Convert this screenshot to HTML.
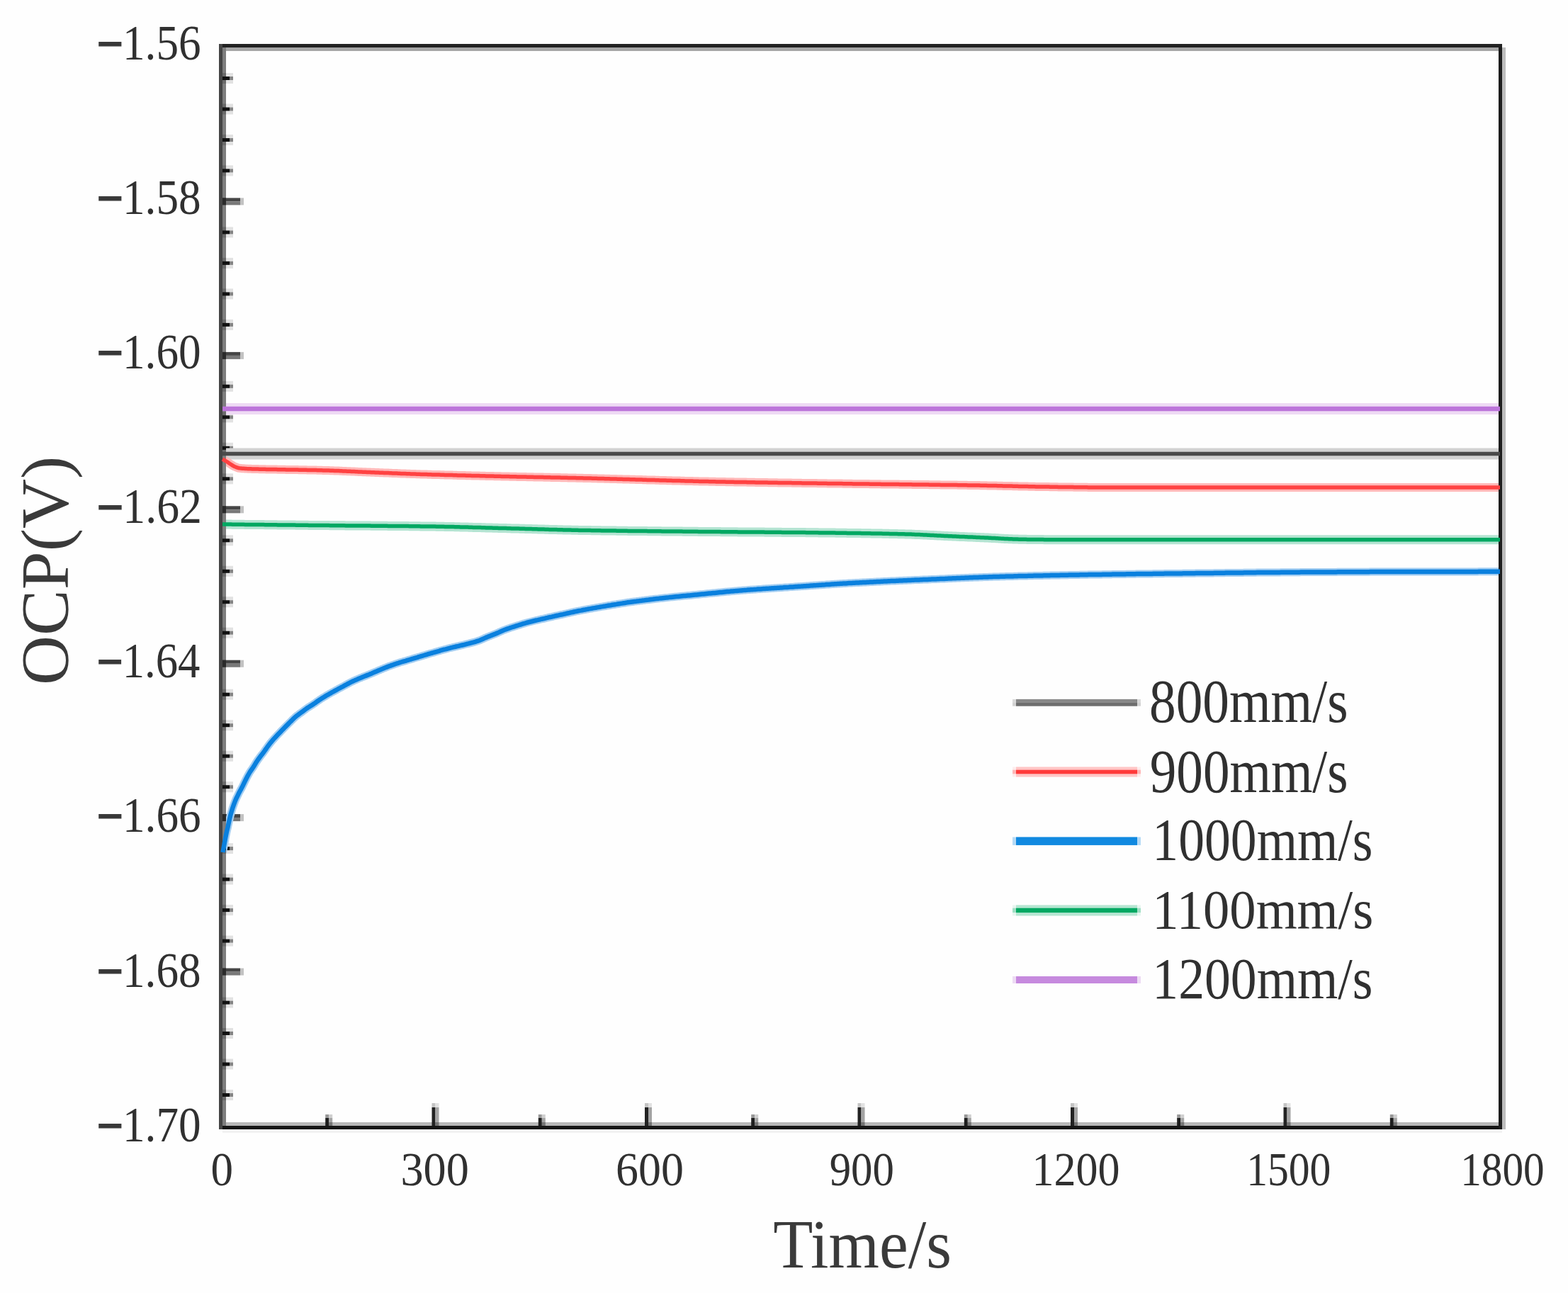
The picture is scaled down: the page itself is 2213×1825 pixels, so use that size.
<!DOCTYPE html>
<html><head><meta charset="utf-8"><title>OCP vs Time</title>
<style>
html,body{margin:0;padding:0;background:#fff;}
svg{display:block;}
text{font-family:'Liberation Serif', 'Times New Roman', serif;fill:#303030;}
.tt{fill:#3a3a3a;}
</style></head>
<body>
<svg width="2213" height="1825" viewBox="0 0 2213 1825">
<rect x="0" y="0" width="2213" height="1825" fill="#fefefe"/>
<defs><clipPath id="plotclip"><rect x="319" y="72" width="1796" height="1512"/></clipPath></defs>
<g id="frame">
<rect x="309" y="62" width="5" height="1532" fill="#454545"/>
<rect x="314" y="67" width="5" height="1522" fill="#7e7e7e"/>
<rect x="314" y="62" width="1806" height="5" fill="#222"/>
<rect x="319" y="67" width="1796" height="5" fill="#a6a6a6"/>
<rect x="319" y="1584" width="1796" height="5" fill="#b8b8b8"/>
<rect x="314" y="1589" width="1806" height="5" fill="#161616"/>
<rect x="2115" y="67" width="5" height="1527" fill="#1e1e1e"/>
<rect x="2120" y="67" width="5" height="1527" fill="#bdbdbd"/>
<rect x="319" y="103" width="10" height="5" fill="#e2e2e2"/><rect x="319" y="113" width="10" height="5" fill="#e2e2e2"/><rect x="314" y="103" width="5" height="15" fill="#6a6a6a"/><rect x="314" y="108" width="10" height="5" fill="#121212"/><rect x="324" y="108" width="5" height="5" fill="#858585"/>
<rect x="319" y="146.5" width="10" height="5" fill="#e2e2e2"/><rect x="319" y="156.5" width="10" height="5" fill="#e2e2e2"/><rect x="314" y="146.5" width="5" height="15" fill="#6a6a6a"/><rect x="314" y="151.5" width="10" height="5" fill="#121212"/><rect x="324" y="151.5" width="5" height="5" fill="#858585"/>
<rect x="319" y="190" width="10" height="5" fill="#e2e2e2"/><rect x="319" y="200" width="10" height="5" fill="#e2e2e2"/><rect x="314" y="190" width="5" height="15" fill="#6a6a6a"/><rect x="314" y="195" width="10" height="5" fill="#121212"/><rect x="324" y="195" width="5" height="5" fill="#858585"/>
<rect x="319" y="233.4" width="10" height="5" fill="#e2e2e2"/><rect x="319" y="243.4" width="10" height="5" fill="#e2e2e2"/><rect x="314" y="233.4" width="5" height="15" fill="#6a6a6a"/><rect x="314" y="238.4" width="10" height="5" fill="#121212"/><rect x="324" y="238.4" width="5" height="5" fill="#858585"/>
<rect x="314" y="279.4" width="25" height="5" fill="#464646"/><rect x="314" y="284.4" width="25" height="5" fill="#787878"/><rect x="314" y="279.4" width="5" height="10" fill="#2a2a2a"/><rect x="339" y="279.4" width="5" height="10" fill="#c2c2c2"/>
<rect x="319" y="320.4" width="10" height="5" fill="#e2e2e2"/><rect x="319" y="330.4" width="10" height="5" fill="#e2e2e2"/><rect x="314" y="320.4" width="5" height="15" fill="#6a6a6a"/><rect x="314" y="325.4" width="10" height="5" fill="#121212"/><rect x="324" y="325.4" width="5" height="5" fill="#858585"/>
<rect x="319" y="363.9" width="10" height="5" fill="#e2e2e2"/><rect x="319" y="373.9" width="10" height="5" fill="#e2e2e2"/><rect x="314" y="363.9" width="5" height="15" fill="#6a6a6a"/><rect x="314" y="368.9" width="10" height="5" fill="#121212"/><rect x="324" y="368.9" width="5" height="5" fill="#858585"/>
<rect x="319" y="407.4" width="10" height="5" fill="#e2e2e2"/><rect x="319" y="417.4" width="10" height="5" fill="#e2e2e2"/><rect x="314" y="407.4" width="5" height="15" fill="#6a6a6a"/><rect x="314" y="412.4" width="10" height="5" fill="#121212"/><rect x="324" y="412.4" width="5" height="5" fill="#858585"/>
<rect x="319" y="450.9" width="10" height="5" fill="#e2e2e2"/><rect x="319" y="460.9" width="10" height="5" fill="#e2e2e2"/><rect x="314" y="450.9" width="5" height="15" fill="#6a6a6a"/><rect x="314" y="455.9" width="10" height="5" fill="#121212"/><rect x="324" y="455.9" width="5" height="5" fill="#858585"/>
<rect x="314" y="496.9" width="25" height="5" fill="#464646"/><rect x="314" y="501.9" width="25" height="5" fill="#787878"/><rect x="314" y="496.9" width="5" height="10" fill="#2a2a2a"/><rect x="339" y="496.9" width="5" height="10" fill="#c2c2c2"/>
<rect x="319" y="537.8" width="10" height="5" fill="#e2e2e2"/><rect x="319" y="547.8" width="10" height="5" fill="#e2e2e2"/><rect x="314" y="537.8" width="5" height="15" fill="#6a6a6a"/><rect x="314" y="542.8" width="10" height="5" fill="#121212"/><rect x="324" y="542.8" width="5" height="5" fill="#858585"/>
<rect x="319" y="581.3" width="10" height="5" fill="#e2e2e2"/><rect x="319" y="591.3" width="10" height="5" fill="#e2e2e2"/><rect x="314" y="581.3" width="5" height="15" fill="#6a6a6a"/><rect x="314" y="586.3" width="10" height="5" fill="#121212"/><rect x="324" y="586.3" width="5" height="5" fill="#858585"/>
<rect x="319" y="624.8" width="10" height="5" fill="#e2e2e2"/><rect x="319" y="634.8" width="10" height="5" fill="#e2e2e2"/><rect x="314" y="624.8" width="5" height="15" fill="#6a6a6a"/><rect x="314" y="629.8" width="10" height="5" fill="#121212"/><rect x="324" y="629.8" width="5" height="5" fill="#858585"/>
<rect x="319" y="668.3" width="10" height="5" fill="#e2e2e2"/><rect x="319" y="678.3" width="10" height="5" fill="#e2e2e2"/><rect x="314" y="668.3" width="5" height="15" fill="#6a6a6a"/><rect x="314" y="673.3" width="10" height="5" fill="#121212"/><rect x="324" y="673.3" width="5" height="5" fill="#858585"/>
<rect x="314" y="714.3" width="25" height="5" fill="#464646"/><rect x="314" y="719.3" width="25" height="5" fill="#787878"/><rect x="314" y="714.3" width="5" height="10" fill="#2a2a2a"/><rect x="339" y="714.3" width="5" height="10" fill="#c2c2c2"/>
<rect x="319" y="755.3" width="10" height="5" fill="#e2e2e2"/><rect x="319" y="765.3" width="10" height="5" fill="#e2e2e2"/><rect x="314" y="755.3" width="5" height="15" fill="#6a6a6a"/><rect x="314" y="760.3" width="10" height="5" fill="#121212"/><rect x="324" y="760.3" width="5" height="5" fill="#858585"/>
<rect x="319" y="798.8" width="10" height="5" fill="#e2e2e2"/><rect x="319" y="808.8" width="10" height="5" fill="#e2e2e2"/><rect x="314" y="798.8" width="5" height="15" fill="#6a6a6a"/><rect x="314" y="803.8" width="10" height="5" fill="#121212"/><rect x="324" y="803.8" width="5" height="5" fill="#858585"/>
<rect x="319" y="842.2" width="10" height="5" fill="#e2e2e2"/><rect x="319" y="852.2" width="10" height="5" fill="#e2e2e2"/><rect x="314" y="842.2" width="5" height="15" fill="#6a6a6a"/><rect x="314" y="847.2" width="10" height="5" fill="#121212"/><rect x="324" y="847.2" width="5" height="5" fill="#858585"/>
<rect x="319" y="885.7" width="10" height="5" fill="#e2e2e2"/><rect x="319" y="895.7" width="10" height="5" fill="#e2e2e2"/><rect x="314" y="885.7" width="5" height="15" fill="#6a6a6a"/><rect x="314" y="890.7" width="10" height="5" fill="#121212"/><rect x="324" y="890.7" width="5" height="5" fill="#858585"/>
<rect x="314" y="931.7" width="25" height="5" fill="#464646"/><rect x="314" y="936.7" width="25" height="5" fill="#787878"/><rect x="314" y="931.7" width="5" height="10" fill="#2a2a2a"/><rect x="339" y="931.7" width="5" height="10" fill="#c2c2c2"/>
<rect x="319" y="972.7" width="10" height="5" fill="#e2e2e2"/><rect x="319" y="982.7" width="10" height="5" fill="#e2e2e2"/><rect x="314" y="972.7" width="5" height="15" fill="#6a6a6a"/><rect x="314" y="977.7" width="10" height="5" fill="#121212"/><rect x="324" y="977.7" width="5" height="5" fill="#858585"/>
<rect x="319" y="1016.2" width="10" height="5" fill="#e2e2e2"/><rect x="319" y="1026.2" width="10" height="5" fill="#e2e2e2"/><rect x="314" y="1016.2" width="5" height="15" fill="#6a6a6a"/><rect x="314" y="1021.2" width="10" height="5" fill="#121212"/><rect x="324" y="1021.2" width="5" height="5" fill="#858585"/>
<rect x="319" y="1059.7" width="10" height="5" fill="#e2e2e2"/><rect x="319" y="1069.7" width="10" height="5" fill="#e2e2e2"/><rect x="314" y="1059.7" width="5" height="15" fill="#6a6a6a"/><rect x="314" y="1064.7" width="10" height="5" fill="#121212"/><rect x="324" y="1064.7" width="5" height="5" fill="#858585"/>
<rect x="319" y="1103.2" width="10" height="5" fill="#e2e2e2"/><rect x="319" y="1113.2" width="10" height="5" fill="#e2e2e2"/><rect x="314" y="1103.2" width="5" height="15" fill="#6a6a6a"/><rect x="314" y="1108.2" width="10" height="5" fill="#121212"/><rect x="324" y="1108.2" width="5" height="5" fill="#858585"/>
<rect x="314" y="1149.1" width="25" height="5" fill="#464646"/><rect x="314" y="1154.1" width="25" height="5" fill="#787878"/><rect x="314" y="1149.1" width="5" height="10" fill="#2a2a2a"/><rect x="339" y="1149.1" width="5" height="10" fill="#c2c2c2"/>
<rect x="319" y="1190.1" width="10" height="5" fill="#e2e2e2"/><rect x="319" y="1200.1" width="10" height="5" fill="#e2e2e2"/><rect x="314" y="1190.1" width="5" height="15" fill="#6a6a6a"/><rect x="314" y="1195.1" width="10" height="5" fill="#121212"/><rect x="324" y="1195.1" width="5" height="5" fill="#858585"/>
<rect x="319" y="1233.6" width="10" height="5" fill="#e2e2e2"/><rect x="319" y="1243.6" width="10" height="5" fill="#e2e2e2"/><rect x="314" y="1233.6" width="5" height="15" fill="#6a6a6a"/><rect x="314" y="1238.6" width="10" height="5" fill="#121212"/><rect x="324" y="1238.6" width="5" height="5" fill="#858585"/>
<rect x="319" y="1277.1" width="10" height="5" fill="#e2e2e2"/><rect x="319" y="1287.1" width="10" height="5" fill="#e2e2e2"/><rect x="314" y="1277.1" width="5" height="15" fill="#6a6a6a"/><rect x="314" y="1282.1" width="10" height="5" fill="#121212"/><rect x="324" y="1282.1" width="5" height="5" fill="#858585"/>
<rect x="319" y="1320.6" width="10" height="5" fill="#e2e2e2"/><rect x="319" y="1330.6" width="10" height="5" fill="#e2e2e2"/><rect x="314" y="1320.6" width="5" height="15" fill="#6a6a6a"/><rect x="314" y="1325.6" width="10" height="5" fill="#121212"/><rect x="324" y="1325.6" width="5" height="5" fill="#858585"/>
<rect x="314" y="1366.6" width="25" height="5" fill="#464646"/><rect x="314" y="1371.6" width="25" height="5" fill="#787878"/><rect x="314" y="1366.6" width="5" height="10" fill="#2a2a2a"/><rect x="339" y="1366.6" width="5" height="10" fill="#c2c2c2"/>
<rect x="319" y="1407.6" width="10" height="5" fill="#e2e2e2"/><rect x="319" y="1417.6" width="10" height="5" fill="#e2e2e2"/><rect x="314" y="1407.6" width="5" height="15" fill="#6a6a6a"/><rect x="314" y="1412.6" width="10" height="5" fill="#121212"/><rect x="324" y="1412.6" width="5" height="5" fill="#858585"/>
<rect x="319" y="1451" width="10" height="5" fill="#e2e2e2"/><rect x="319" y="1461" width="10" height="5" fill="#e2e2e2"/><rect x="314" y="1451" width="5" height="15" fill="#6a6a6a"/><rect x="314" y="1456" width="10" height="5" fill="#121212"/><rect x="324" y="1456" width="5" height="5" fill="#858585"/>
<rect x="319" y="1494.5" width="10" height="5" fill="#e2e2e2"/><rect x="319" y="1504.5" width="10" height="5" fill="#e2e2e2"/><rect x="314" y="1494.5" width="5" height="15" fill="#6a6a6a"/><rect x="314" y="1499.5" width="10" height="5" fill="#121212"/><rect x="324" y="1499.5" width="5" height="5" fill="#858585"/>
<rect x="319" y="1538" width="10" height="5" fill="#e2e2e2"/><rect x="319" y="1548" width="10" height="5" fill="#e2e2e2"/><rect x="314" y="1538" width="5" height="15" fill="#6a6a6a"/><rect x="314" y="1543" width="10" height="5" fill="#121212"/><rect x="324" y="1543" width="5" height="5" fill="#858585"/>
<rect x="459.2" y="1573" width="5" height="5" fill="#989898"/><rect x="464.2" y="1573" width="5" height="5" fill="#d0d0d0"/><rect x="459.2" y="1578" width="5" height="11" fill="#1e1e1e"/><rect x="464.2" y="1578" width="5" height="6" fill="#a4a4a4"/><rect x="464.2" y="1584" width="5" height="5" fill="#767676"/>
<rect x="609.5" y="1557" width="5" height="6" fill="#c4c4c4"/><rect x="614.5" y="1557" width="5" height="6" fill="#e2e2e2"/><rect x="609.5" y="1563" width="5" height="26" fill="#222"/><rect x="614.5" y="1563" width="5" height="21" fill="#a4a4a4"/><rect x="614.5" y="1584" width="5" height="5" fill="#747474"/>
<rect x="759.8" y="1573" width="5" height="5" fill="#989898"/><rect x="764.8" y="1573" width="5" height="5" fill="#d0d0d0"/><rect x="759.8" y="1578" width="5" height="11" fill="#1e1e1e"/><rect x="764.8" y="1578" width="5" height="6" fill="#a4a4a4"/><rect x="764.8" y="1584" width="5" height="5" fill="#767676"/>
<rect x="910" y="1557" width="5" height="6" fill="#c4c4c4"/><rect x="915" y="1557" width="5" height="6" fill="#e2e2e2"/><rect x="910" y="1563" width="5" height="26" fill="#222"/><rect x="915" y="1563" width="5" height="21" fill="#a4a4a4"/><rect x="915" y="1584" width="5" height="5" fill="#747474"/>
<rect x="1060.2" y="1573" width="5" height="5" fill="#989898"/><rect x="1065.2" y="1573" width="5" height="5" fill="#d0d0d0"/><rect x="1060.2" y="1578" width="5" height="11" fill="#1e1e1e"/><rect x="1065.2" y="1578" width="5" height="6" fill="#a4a4a4"/><rect x="1065.2" y="1584" width="5" height="5" fill="#767676"/>
<rect x="1210.5" y="1557" width="5" height="6" fill="#c4c4c4"/><rect x="1215.5" y="1557" width="5" height="6" fill="#e2e2e2"/><rect x="1210.5" y="1563" width="5" height="26" fill="#222"/><rect x="1215.5" y="1563" width="5" height="21" fill="#a4a4a4"/><rect x="1215.5" y="1584" width="5" height="5" fill="#747474"/>
<rect x="1360.8" y="1573" width="5" height="5" fill="#989898"/><rect x="1365.8" y="1573" width="5" height="5" fill="#d0d0d0"/><rect x="1360.8" y="1578" width="5" height="11" fill="#1e1e1e"/><rect x="1365.8" y="1578" width="5" height="6" fill="#a4a4a4"/><rect x="1365.8" y="1584" width="5" height="5" fill="#767676"/>
<rect x="1511" y="1557" width="5" height="6" fill="#c4c4c4"/><rect x="1516" y="1557" width="5" height="6" fill="#e2e2e2"/><rect x="1511" y="1563" width="5" height="26" fill="#222"/><rect x="1516" y="1563" width="5" height="21" fill="#a4a4a4"/><rect x="1516" y="1584" width="5" height="5" fill="#747474"/>
<rect x="1661.2" y="1573" width="5" height="5" fill="#989898"/><rect x="1666.2" y="1573" width="5" height="5" fill="#d0d0d0"/><rect x="1661.2" y="1578" width="5" height="11" fill="#1e1e1e"/><rect x="1666.2" y="1578" width="5" height="6" fill="#a4a4a4"/><rect x="1666.2" y="1584" width="5" height="5" fill="#767676"/>
<rect x="1811.5" y="1557" width="5" height="6" fill="#c4c4c4"/><rect x="1816.5" y="1557" width="5" height="6" fill="#e2e2e2"/><rect x="1811.5" y="1563" width="5" height="26" fill="#222"/><rect x="1816.5" y="1563" width="5" height="21" fill="#a4a4a4"/><rect x="1816.5" y="1584" width="5" height="5" fill="#747474"/>
<rect x="1961.8" y="1573" width="5" height="5" fill="#989898"/><rect x="1966.8" y="1573" width="5" height="5" fill="#d0d0d0"/><rect x="1961.8" y="1578" width="5" height="11" fill="#1e1e1e"/><rect x="1966.8" y="1578" width="5" height="6" fill="#a4a4a4"/><rect x="1966.8" y="1584" width="5" height="5" fill="#767676"/>
<rect x="314" y="1594" width="1806" height="5" fill="#f3f3f3"/>
</g>
<g id="curves">
<path d="M314,577 2117,577" fill="none" stroke="#eedaf4" stroke-width="16" stroke-linejoin="round" clip-path="url(#plotclip)"/>
<path d="M314,577 2117,577" fill="none" stroke="#bc74da" stroke-width="6.5" stroke-linejoin="round"/>
<path d="M314,640.5 2117,640.5" fill="none" stroke="#d2d2d2" stroke-width="16" stroke-linejoin="round" clip-path="url(#plotclip)"/>
<path d="M314,640.5 2117,640.5" fill="none" stroke="#4a4a4a" stroke-width="5.5" stroke-linejoin="round"/>
<path d="M314,648 316,649.1 318,650.3 320,651.5 322,652.8 324,654.2 326,655.5 327.7,656.6 329.3,657.6 331,658.5 332.8,659.2 334.5,659.9 336.2,660.5 338,660.8 340,661 342,661.2 344,661.3 346,661.4 348,661.6 350,661.7 352,661.7 354,661.8 356,661.9 358,661.9 360,662 362,662.1 364,662.1 366,662.2 368,662.2 370,662.3 372,662.3 374,662.3 376,662.4 378,662.4 380,662.5 382,662.5 384,662.5 386,662.6 388,662.6 390,662.6 392,662.7 394,662.7 396,662.7 398,662.8 400,662.8 402,662.8 404,662.9 406,662.9 408,662.9 410,663 412,663 414,663 416,663.1 418,663.1 420,663.1 422,663.2 424,663.2 426,663.2 428,663.3 430,663.3 432,663.3 434,663.4 436,663.4 438,663.5 440,663.5 442,663.5 444,663.6 446,663.6 448,663.7 450,663.7 452,663.8 454,663.8 456,663.9 458,663.9 460,664 462,664 464,664.1 466,664.2 468,664.2 470,664.3 472,664.4 474,664.5 476,664.6 478,664.6 480,664.7 482,664.8 484,664.9 486,665 488,665.1 490,665.2 492,665.3 494,665.3 496,665.4 498,665.5 500,665.6 502,665.7 504,665.8 506,665.9 508,666 510,666.1 512,666.2 514,666.3 516,666.3 518,666.4 520,666.5 522,666.6 524,666.7 526,666.7 528,666.8 530,666.9 532,667 534,667.1 536,667.2 538,667.2 540,667.3 542,667.4 544,667.5 546,667.6 548,667.6 550,667.7 552,667.8 554,667.9 556,668 558,668 560,668.1 562,668.2 564,668.3 566,668.4 568,668.4 570,668.5 572,668.6 574,668.7 576,668.7 578,668.8 580,668.9 582,669 584,669 586,669.1 588,669.2 590,669.2 592,669.3 594,669.4 596,669.4 598,669.5 600,669.6 602,669.6 604,669.7 606,669.7 608,669.8 610,669.9 612,669.9 614,670 616,670 618,670.1 620,670.1 622,670.2 624,670.3 626,670.3 628,670.4 630,670.4 632,670.5 634,670.5 636,670.6 638,670.6 640,670.7 642,670.8 644,670.8 646,670.9 648,670.9 650,671 652,671 654,671.1 656,671.1 658,671.2 660,671.2 662,671.3 664,671.3 666,671.4 668,671.4 670,671.5 672,671.5 674,671.6 676,671.6 678,671.7 680,671.7 682,671.8 684,671.8 686,671.9 688,671.9 690,672 692,672 694,672.1 696,672.1 698,672.2 700,672.2 702,672.2 704,672.3 706,672.3 708,672.4 710,672.4 712,672.5 714,672.5 716,672.6 718,672.6 720,672.7 722,672.7 724,672.7 726,672.8 728,672.8 730,672.9 732,672.9 734,673 736,673 738,673 740,673.1 742,673.1 744,673.2 746,673.2 748,673.3 750,673.3 752,673.3 754,673.4 756,673.4 758,673.5 760,673.5 762,673.5 764,673.6 766,673.6 768,673.7 770,673.7 772,673.8 774,673.8 776,673.8 778,673.9 780,673.9 782,674 784,674 786,674 788,674.1 790,674.1 792,674.2 794,674.2 796,674.3 798,674.3 800,674.3 802,674.4 804,674.4 806,674.5 808,674.5 810,674.6 812,674.6 814,674.7 816,674.7 818,674.8 820,674.8 822,674.8 824,674.9 826,674.9 828,675 829.9,675 831.9,675.1 833.9,675.1 835.9,675.2 837.9,675.2 839.9,675.3 841.9,675.3 843.9,675.4 845.9,675.4 847.9,675.5 849.8,675.6 851.8,675.6 853.8,675.7 855.8,675.7 857.8,675.8 859.8,675.8 861.8,675.9 863.8,675.9 865.8,676 867.8,676 869.7,676.1 871.7,676.2 873.7,676.2 875.7,676.3 877.7,676.3 879.7,676.4 881.7,676.4 883.7,676.5 885.7,676.6 887.7,676.6 889.6,676.7 891.6,676.7 893.6,676.8 895.6,676.8 897.6,676.9 899.6,677 901.6,677 903.6,677.1 905.6,677.1 907.6,677.2 909.5,677.2 911.5,677.3 913.5,677.4 915.5,677.4 917.5,677.5 919.5,677.5 921.5,677.6 923.5,677.6 925.5,677.7 927.5,677.8 929.4,677.8 931.4,677.9 933.4,677.9 935.4,678 937.4,678 939.4,678.1 941.4,678.2 943.4,678.2 945.4,678.3 947.4,678.3 949.3,678.4 951.3,678.4 953.3,678.5 955.3,678.5 957.3,678.6 959.3,678.6 961.3,678.7 963.3,678.8 965.3,678.8 967.3,678.9 969.2,678.9 971.2,679 973.2,679 975.2,679.1 977.2,679.1 979.2,679.2 981.2,679.2 983.2,679.3 985.2,679.3 987.2,679.4 989.1,679.4 991.1,679.4 993.1,679.5 995.1,679.5 997.1,679.6 999.1,679.6 1001.1,679.7 1003.1,679.7 1005.1,679.8 1007.1,679.8 1009,679.8 1011,679.9 1013,679.9 1015,680 1017,680 1019,680 1021,680.1 1023,680.1 1025,680.2 1026.9,680.2 1028.9,680.2 1030.9,680.3 1032.9,680.3 1034.9,680.3 1036.9,680.4 1038.9,680.4 1040.9,680.4 1042.9,680.5 1044.8,680.5 1046.8,680.5 1048.8,680.6 1050.8,680.6 1052.8,680.6 1054.8,680.7 1056.8,680.7 1058.8,680.7 1060.8,680.8 1062.8,680.8 1064.7,680.8 1066.7,680.9 1068.7,680.9 1070.7,680.9 1072.7,681 1074.7,681 1076.7,681 1078.7,681.1 1080.7,681.1 1082.6,681.1 1084.6,681.2 1086.6,681.2 1088.6,681.2 1090.6,681.3 1092.6,681.3 1094.6,681.3 1096.6,681.3 1098.6,681.4 1100.5,681.4 1102.5,681.4 1104.5,681.5 1106.5,681.5 1108.5,681.5 1110.5,681.6 1112.5,681.6 1114.5,681.6 1116.5,681.6 1118.4,681.7 1120.4,681.7 1122.4,681.7 1124.4,681.8 1126.4,681.8 1128.4,681.8 1130.4,681.8 1132.4,681.9 1134.4,681.9 1136.3,681.9 1138.3,681.9 1140.3,682 1142.3,682 1144.3,682 1146.3,682.1 1148.3,682.1 1150.3,682.1 1152.3,682.1 1154.2,682.2 1156.2,682.2 1158.2,682.2 1160.2,682.3 1162.2,682.3 1164.2,682.3 1166.2,682.3 1168.2,682.4 1170.2,682.4 1172.2,682.4 1174.1,682.4 1176.1,682.5 1178.1,682.5 1180.1,682.5 1182.1,682.6 1184.1,682.6 1186.1,682.6 1188.1,682.6 1190.1,682.7 1192,682.7 1194,682.7 1196,682.7 1198,682.8 1200,682.8 1202,682.8 1204,682.9 1206,682.9 1208,682.9 1210,682.9 1212,683 1214,683 1216,683 1218,683 1220,683.1 1222,683.1 1224,683.1 1226,683.1 1228,683.2 1230,683.2 1232,683.2 1234,683.2 1236,683.3 1238,683.3 1240,683.3 1242,683.3 1244,683.4 1246,683.4 1248,683.4 1250,683.4 1252,683.5 1254,683.5 1256,683.5 1258,683.5 1260,683.5 1262,683.6 1264,683.6 1266,683.6 1268,683.6 1270,683.7 1272,683.7 1274,683.7 1276,683.7 1278,683.8 1280,683.8 1282,683.8 1284,683.8 1286,683.8 1288,683.9 1290,683.9 1292,683.9 1294,683.9 1296,684 1298,684 1300,684 1302,684 1304,684.1 1306,684.1 1308,684.1 1310,684.1 1312,684.2 1314,684.2 1316,684.2 1318,684.2 1320,684.3 1322,684.3 1324,684.3 1326,684.3 1328,684.4 1330,684.4 1332,684.4 1334,684.4 1336,684.5 1338,684.5 1340,684.5 1342,684.5 1344,684.6 1346,684.6 1348,684.6 1350,684.6 1352,684.7 1354,684.7 1356,684.7 1358,684.8 1360,684.8 1362,684.8 1364,684.8 1366,684.9 1368,684.9 1370,684.9 1372,685 1374,685 1376,685 1378,685.1 1380,685.1 1382,685.1 1384,685.2 1386,685.2 1388,685.2 1390,685.3 1392,685.3 1394,685.4 1396,685.4 1398,685.4 1400,685.5 1402,685.5 1404,685.6 1406,685.6 1408,685.7 1410,685.7 1412,685.8 1414,685.8 1416,685.9 1418,685.9 1420,686 1422,686 1424,686 1426,686.1 1428,686.1 1430,686.2 1432,686.2 1434,686.3 1436,686.3 1438,686.4 1440,686.4 1442,686.5 1444,686.5 1446,686.6 1448,686.6 1450,686.6 1452,686.7 1454,686.7 1456,686.8 1458,686.8 1460,686.8 1462,686.9 1464,686.9 1466,686.9 1468,687 1470,687 1472,687 1474,687.1 1476,687.1 1478,687.1 1480,687.1 1482,687.2 1484,687.2 1486,687.2 1488,687.3 1490,687.3 1492,687.3 1494,687.4 1496,687.4 1498,687.4 1500,687.5 1502,687.5 1504,687.5 1506,687.5 1508,687.6 1510,687.6 1512,687.6 1514,687.6 1516,687.7 1518,687.7 1520,687.7 1522,687.7 1524,687.8 1526,687.8 1528,687.8 1530,687.8 1532,687.8 1534,687.8 1536,687.9 1538,687.9 1540,687.9 1542,687.9 1544,687.9 1546,687.9 1548,687.9 1550,687.9 1552,687.9 1554,687.9 1556,687.9 1558,687.9 1560,687.9 1562,687.9 1564,687.9 1566,687.9 1568,687.9 1570,687.9 1572,687.9 1574,687.9 1576,687.9 1578,687.9 1579.9,687.9 1581.9,687.9 1583.9,687.9 1585.9,687.9 1587.9,687.9 1589.9,687.9 1591.9,687.9 1593.9,687.9 1595.9,687.9 1597.9,687.9 1599.9,687.9 1601.9,687.9 1603.9,687.9 1605.9,687.9 1607.9,687.9 1609.9,687.9 1611.9,687.9 1613.9,687.9 1615.9,687.9 1617.9,687.9 1619.9,687.9 1621.9,687.9 1623.9,687.9 1625.9,687.9 1627.9,687.9 1629.9,687.9 1631.9,687.9 1633.9,687.9 1635.8,687.9 1637.8,687.9 1639.8,687.9 1641.8,687.9 1643.8,687.9 1645.8,687.9 1647.8,687.9 1649.8,687.9 1651.8,687.9 1653.8,687.9 1655.8,687.9 1657.8,687.9 1659.8,687.9 1661.8,687.9 1663.8,687.9 1665.8,687.9 1667.8,687.9 1669.8,687.9 1671.8,687.9 1673.8,687.9 1675.8,687.9 1677.8,687.9 1679.8,687.9 1681.8,687.9 1683.8,687.9 1685.8,687.9 1687.8,687.9 1689.8,687.9 1691.8,687.9 1693.7,687.9 1695.7,687.9 1697.7,687.9 1699.7,687.9 1701.7,687.9 1703.7,688 1705.7,688 1707.7,688 1709.7,688 1711.7,688 1713.7,688 1715.7,688 1717.7,688 1719.7,688 1721.7,688 1723.7,688 1725.7,688 1727.7,688 1729.7,688 1731.7,688 1733.7,688 1735.7,688 1737.7,688 1739.7,688 1741.7,688 1743.7,688 1745.7,688 1747.7,688 1749.6,688 1751.6,688 1753.6,688 1755.6,688 1757.6,688 1759.6,688 1761.6,688 1763.6,688 1765.6,688 1767.6,688 1769.6,688 1771.6,688 1773.6,688 1775.6,688 1777.6,688 1779.6,688 1781.6,688 1783.6,688 1785.6,688 1787.6,688 1789.6,688 1791.6,688 1793.6,688 1795.6,688 1797.6,688 1799.6,688 1801.6,688 1803.6,688 1805.5,688 1807.5,688 1809.5,688 1811.5,688 1813.5,688 1815.5,688 1817.5,688 1819.5,688 1821.5,688 1823.5,688 1825.5,688 1827.5,688 1829.5,688 1831.5,688 1833.5,688 1835.5,688 1837.5,688 1839.5,688 1841.5,688 1843.5,688 1845.5,688 1847.5,688 1849.5,688 1851.5,688 1853.5,688 1855.5,688 1857.5,688 1859.5,688 1861.5,688 1863.4,688 1865.4,688 1867.4,688 1869.4,688 1871.4,688 1873.4,688 1875.4,688 1877.4,688 1879.4,688 1881.4,688 1883.4,688 1885.4,688 1887.4,688 1889.4,688 1891.4,688 1893.4,688 1895.4,688 1897.4,688 1899.4,688 1901.4,688 1903.4,688 1905.4,688 1907.4,688 1909.4,688 1911.4,688 1913.4,688 1915.4,688 1917.4,688 1919.3,688 1921.3,688 1923.3,688 1925.3,688 1927.3,688 1929.3,688 1931.3,688 1933.3,688 1935.3,688 1937.3,688 1939.3,688 1941.3,688 1943.3,688 1945.3,688 1947.3,688 1949.3,688 1951.3,688 1953.3,688 1955.3,688 1957.3,688 1959.3,688 1961.3,688 1963.3,688 1965.3,688 1967.3,688 1969.3,688 1971.3,688 1973.3,688 1975.2,688 1977.2,688 1979.2,688 1981.2,688 1983.2,688 1985.2,688 1987.2,688 1989.2,688 1991.2,688 1993.2,688 1995.2,688 1997.2,688 1999.2,688 2001.2,688 2003.2,688 2005.2,688 2007.2,688 2009.2,688 2011.2,688 2013.2,688 2015.2,688 2017.2,688 2019.2,688 2021.2,688 2023.2,688 2025.2,688 2027.2,688 2029.2,688 2031.2,688 2033.1,688 2035.1,688 2037.1,688 2039.1,688 2041.1,688 2043.1,688 2045.1,688 2047.1,688 2049.1,688 2051.1,688 2053.1,688 2055.1,688 2057.1,688 2059.1,688 2061.1,688 2063.1,688 2065.1,688 2067.1,688 2069.1,688 2071.1,688 2073.1,688 2075.1,688 2077.1,688 2079.1,688 2081.1,688 2083.1,688 2085.1,688 2087.1,688 2089,688 2091,688 2093,688 2095,688 2097,688 2099,688 2101,688 2103,688 2105,688 2107,688 2109,688 2111,688 2113,688 2115,688 2117,688" fill="none" stroke="#ffb8b8" stroke-width="12" stroke-linejoin="round" clip-path="url(#plotclip)"/>
<path d="M314,648 316,649.1 318,650.3 320,651.5 322,652.8 324,654.2 326,655.5 327.7,656.6 329.3,657.6 331,658.5 332.8,659.2 334.5,659.9 336.2,660.5 338,660.8 340,661 342,661.2 344,661.3 346,661.4 348,661.6 350,661.7 352,661.7 354,661.8 356,661.9 358,661.9 360,662 362,662.1 364,662.1 366,662.2 368,662.2 370,662.3 372,662.3 374,662.3 376,662.4 378,662.4 380,662.5 382,662.5 384,662.5 386,662.6 388,662.6 390,662.6 392,662.7 394,662.7 396,662.7 398,662.8 400,662.8 402,662.8 404,662.9 406,662.9 408,662.9 410,663 412,663 414,663 416,663.1 418,663.1 420,663.1 422,663.2 424,663.2 426,663.2 428,663.3 430,663.3 432,663.3 434,663.4 436,663.4 438,663.5 440,663.5 442,663.5 444,663.6 446,663.6 448,663.7 450,663.7 452,663.8 454,663.8 456,663.9 458,663.9 460,664 462,664 464,664.1 466,664.2 468,664.2 470,664.3 472,664.4 474,664.5 476,664.6 478,664.6 480,664.7 482,664.8 484,664.9 486,665 488,665.1 490,665.2 492,665.3 494,665.3 496,665.4 498,665.5 500,665.6 502,665.7 504,665.8 506,665.9 508,666 510,666.1 512,666.2 514,666.3 516,666.3 518,666.4 520,666.5 522,666.6 524,666.7 526,666.7 528,666.8 530,666.9 532,667 534,667.1 536,667.2 538,667.2 540,667.3 542,667.4 544,667.5 546,667.6 548,667.6 550,667.7 552,667.8 554,667.9 556,668 558,668 560,668.1 562,668.2 564,668.3 566,668.4 568,668.4 570,668.5 572,668.6 574,668.7 576,668.7 578,668.8 580,668.9 582,669 584,669 586,669.1 588,669.2 590,669.2 592,669.3 594,669.4 596,669.4 598,669.5 600,669.6 602,669.6 604,669.7 606,669.7 608,669.8 610,669.9 612,669.9 614,670 616,670 618,670.1 620,670.1 622,670.2 624,670.3 626,670.3 628,670.4 630,670.4 632,670.5 634,670.5 636,670.6 638,670.6 640,670.7 642,670.8 644,670.8 646,670.9 648,670.9 650,671 652,671 654,671.1 656,671.1 658,671.2 660,671.2 662,671.3 664,671.3 666,671.4 668,671.4 670,671.5 672,671.5 674,671.6 676,671.6 678,671.7 680,671.7 682,671.8 684,671.8 686,671.9 688,671.9 690,672 692,672 694,672.1 696,672.1 698,672.2 700,672.2 702,672.2 704,672.3 706,672.3 708,672.4 710,672.4 712,672.5 714,672.5 716,672.6 718,672.6 720,672.7 722,672.7 724,672.7 726,672.8 728,672.8 730,672.9 732,672.9 734,673 736,673 738,673 740,673.1 742,673.1 744,673.2 746,673.2 748,673.3 750,673.3 752,673.3 754,673.4 756,673.4 758,673.5 760,673.5 762,673.5 764,673.6 766,673.6 768,673.7 770,673.7 772,673.8 774,673.8 776,673.8 778,673.9 780,673.9 782,674 784,674 786,674 788,674.1 790,674.1 792,674.2 794,674.2 796,674.3 798,674.3 800,674.3 802,674.4 804,674.4 806,674.5 808,674.5 810,674.6 812,674.6 814,674.7 816,674.7 818,674.8 820,674.8 822,674.8 824,674.9 826,674.9 828,675 829.9,675 831.9,675.1 833.9,675.1 835.9,675.2 837.9,675.2 839.9,675.3 841.9,675.3 843.9,675.4 845.9,675.4 847.9,675.5 849.8,675.6 851.8,675.6 853.8,675.7 855.8,675.7 857.8,675.8 859.8,675.8 861.8,675.9 863.8,675.9 865.8,676 867.8,676 869.7,676.1 871.7,676.2 873.7,676.2 875.7,676.3 877.7,676.3 879.7,676.4 881.7,676.4 883.7,676.5 885.7,676.6 887.7,676.6 889.6,676.7 891.6,676.7 893.6,676.8 895.6,676.8 897.6,676.9 899.6,677 901.6,677 903.6,677.1 905.6,677.1 907.6,677.2 909.5,677.2 911.5,677.3 913.5,677.4 915.5,677.4 917.5,677.5 919.5,677.5 921.5,677.6 923.5,677.6 925.5,677.7 927.5,677.8 929.4,677.8 931.4,677.9 933.4,677.9 935.4,678 937.4,678 939.4,678.1 941.4,678.2 943.4,678.2 945.4,678.3 947.4,678.3 949.3,678.4 951.3,678.4 953.3,678.5 955.3,678.5 957.3,678.6 959.3,678.6 961.3,678.7 963.3,678.8 965.3,678.8 967.3,678.9 969.2,678.9 971.2,679 973.2,679 975.2,679.1 977.2,679.1 979.2,679.2 981.2,679.2 983.2,679.3 985.2,679.3 987.2,679.4 989.1,679.4 991.1,679.4 993.1,679.5 995.1,679.5 997.1,679.6 999.1,679.6 1001.1,679.7 1003.1,679.7 1005.1,679.8 1007.1,679.8 1009,679.8 1011,679.9 1013,679.9 1015,680 1017,680 1019,680 1021,680.1 1023,680.1 1025,680.2 1026.9,680.2 1028.9,680.2 1030.9,680.3 1032.9,680.3 1034.9,680.3 1036.9,680.4 1038.9,680.4 1040.9,680.4 1042.9,680.5 1044.8,680.5 1046.8,680.5 1048.8,680.6 1050.8,680.6 1052.8,680.6 1054.8,680.7 1056.8,680.7 1058.8,680.7 1060.8,680.8 1062.8,680.8 1064.7,680.8 1066.7,680.9 1068.7,680.9 1070.7,680.9 1072.7,681 1074.7,681 1076.7,681 1078.7,681.1 1080.7,681.1 1082.6,681.1 1084.6,681.2 1086.6,681.2 1088.6,681.2 1090.6,681.3 1092.6,681.3 1094.6,681.3 1096.6,681.3 1098.6,681.4 1100.5,681.4 1102.5,681.4 1104.5,681.5 1106.5,681.5 1108.5,681.5 1110.5,681.6 1112.5,681.6 1114.5,681.6 1116.5,681.6 1118.4,681.7 1120.4,681.7 1122.4,681.7 1124.4,681.8 1126.4,681.8 1128.4,681.8 1130.4,681.8 1132.4,681.9 1134.4,681.9 1136.3,681.9 1138.3,681.9 1140.3,682 1142.3,682 1144.3,682 1146.3,682.1 1148.3,682.1 1150.3,682.1 1152.3,682.1 1154.2,682.2 1156.2,682.2 1158.2,682.2 1160.2,682.3 1162.2,682.3 1164.2,682.3 1166.2,682.3 1168.2,682.4 1170.2,682.4 1172.2,682.4 1174.1,682.4 1176.1,682.5 1178.1,682.5 1180.1,682.5 1182.1,682.6 1184.1,682.6 1186.1,682.6 1188.1,682.6 1190.1,682.7 1192,682.7 1194,682.7 1196,682.7 1198,682.8 1200,682.8 1202,682.8 1204,682.9 1206,682.9 1208,682.9 1210,682.9 1212,683 1214,683 1216,683 1218,683 1220,683.1 1222,683.1 1224,683.1 1226,683.1 1228,683.2 1230,683.2 1232,683.2 1234,683.2 1236,683.3 1238,683.3 1240,683.3 1242,683.3 1244,683.4 1246,683.4 1248,683.4 1250,683.4 1252,683.5 1254,683.5 1256,683.5 1258,683.5 1260,683.5 1262,683.6 1264,683.6 1266,683.6 1268,683.6 1270,683.7 1272,683.7 1274,683.7 1276,683.7 1278,683.8 1280,683.8 1282,683.8 1284,683.8 1286,683.8 1288,683.9 1290,683.9 1292,683.9 1294,683.9 1296,684 1298,684 1300,684 1302,684 1304,684.1 1306,684.1 1308,684.1 1310,684.1 1312,684.2 1314,684.2 1316,684.2 1318,684.2 1320,684.3 1322,684.3 1324,684.3 1326,684.3 1328,684.4 1330,684.4 1332,684.4 1334,684.4 1336,684.5 1338,684.5 1340,684.5 1342,684.5 1344,684.6 1346,684.6 1348,684.6 1350,684.6 1352,684.7 1354,684.7 1356,684.7 1358,684.8 1360,684.8 1362,684.8 1364,684.8 1366,684.9 1368,684.9 1370,684.9 1372,685 1374,685 1376,685 1378,685.1 1380,685.1 1382,685.1 1384,685.2 1386,685.2 1388,685.2 1390,685.3 1392,685.3 1394,685.4 1396,685.4 1398,685.4 1400,685.5 1402,685.5 1404,685.6 1406,685.6 1408,685.7 1410,685.7 1412,685.8 1414,685.8 1416,685.9 1418,685.9 1420,686 1422,686 1424,686 1426,686.1 1428,686.1 1430,686.2 1432,686.2 1434,686.3 1436,686.3 1438,686.4 1440,686.4 1442,686.5 1444,686.5 1446,686.6 1448,686.6 1450,686.6 1452,686.7 1454,686.7 1456,686.8 1458,686.8 1460,686.8 1462,686.9 1464,686.9 1466,686.9 1468,687 1470,687 1472,687 1474,687.1 1476,687.1 1478,687.1 1480,687.1 1482,687.2 1484,687.2 1486,687.2 1488,687.3 1490,687.3 1492,687.3 1494,687.4 1496,687.4 1498,687.4 1500,687.5 1502,687.5 1504,687.5 1506,687.5 1508,687.6 1510,687.6 1512,687.6 1514,687.6 1516,687.7 1518,687.7 1520,687.7 1522,687.7 1524,687.8 1526,687.8 1528,687.8 1530,687.8 1532,687.8 1534,687.8 1536,687.9 1538,687.9 1540,687.9 1542,687.9 1544,687.9 1546,687.9 1548,687.9 1550,687.9 1552,687.9 1554,687.9 1556,687.9 1558,687.9 1560,687.9 1562,687.9 1564,687.9 1566,687.9 1568,687.9 1570,687.9 1572,687.9 1574,687.9 1576,687.9 1578,687.9 1579.9,687.9 1581.9,687.9 1583.9,687.9 1585.9,687.9 1587.9,687.9 1589.9,687.9 1591.9,687.9 1593.9,687.9 1595.9,687.9 1597.9,687.9 1599.9,687.9 1601.9,687.9 1603.9,687.9 1605.9,687.9 1607.9,687.9 1609.9,687.9 1611.9,687.9 1613.9,687.9 1615.9,687.9 1617.9,687.9 1619.9,687.9 1621.9,687.9 1623.9,687.9 1625.9,687.9 1627.9,687.9 1629.9,687.9 1631.9,687.9 1633.9,687.9 1635.8,687.9 1637.8,687.9 1639.8,687.9 1641.8,687.9 1643.8,687.9 1645.8,687.9 1647.8,687.9 1649.8,687.9 1651.8,687.9 1653.8,687.9 1655.8,687.9 1657.8,687.9 1659.8,687.9 1661.8,687.9 1663.8,687.9 1665.8,687.9 1667.8,687.9 1669.8,687.9 1671.8,687.9 1673.8,687.9 1675.8,687.9 1677.8,687.9 1679.8,687.9 1681.8,687.9 1683.8,687.9 1685.8,687.9 1687.8,687.9 1689.8,687.9 1691.8,687.9 1693.7,687.9 1695.7,687.9 1697.7,687.9 1699.7,687.9 1701.7,687.9 1703.7,688 1705.7,688 1707.7,688 1709.7,688 1711.7,688 1713.7,688 1715.7,688 1717.7,688 1719.7,688 1721.7,688 1723.7,688 1725.7,688 1727.7,688 1729.7,688 1731.7,688 1733.7,688 1735.7,688 1737.7,688 1739.7,688 1741.7,688 1743.7,688 1745.7,688 1747.7,688 1749.6,688 1751.6,688 1753.6,688 1755.6,688 1757.6,688 1759.6,688 1761.6,688 1763.6,688 1765.6,688 1767.6,688 1769.6,688 1771.6,688 1773.6,688 1775.6,688 1777.6,688 1779.6,688 1781.6,688 1783.6,688 1785.6,688 1787.6,688 1789.6,688 1791.6,688 1793.6,688 1795.6,688 1797.6,688 1799.6,688 1801.6,688 1803.6,688 1805.5,688 1807.5,688 1809.5,688 1811.5,688 1813.5,688 1815.5,688 1817.5,688 1819.5,688 1821.5,688 1823.5,688 1825.5,688 1827.5,688 1829.5,688 1831.5,688 1833.5,688 1835.5,688 1837.5,688 1839.5,688 1841.5,688 1843.5,688 1845.5,688 1847.5,688 1849.5,688 1851.5,688 1853.5,688 1855.5,688 1857.5,688 1859.5,688 1861.5,688 1863.4,688 1865.4,688 1867.4,688 1869.4,688 1871.4,688 1873.4,688 1875.4,688 1877.4,688 1879.4,688 1881.4,688 1883.4,688 1885.4,688 1887.4,688 1889.4,688 1891.4,688 1893.4,688 1895.4,688 1897.4,688 1899.4,688 1901.4,688 1903.4,688 1905.4,688 1907.4,688 1909.4,688 1911.4,688 1913.4,688 1915.4,688 1917.4,688 1919.3,688 1921.3,688 1923.3,688 1925.3,688 1927.3,688 1929.3,688 1931.3,688 1933.3,688 1935.3,688 1937.3,688 1939.3,688 1941.3,688 1943.3,688 1945.3,688 1947.3,688 1949.3,688 1951.3,688 1953.3,688 1955.3,688 1957.3,688 1959.3,688 1961.3,688 1963.3,688 1965.3,688 1967.3,688 1969.3,688 1971.3,688 1973.3,688 1975.2,688 1977.2,688 1979.2,688 1981.2,688 1983.2,688 1985.2,688 1987.2,688 1989.2,688 1991.2,688 1993.2,688 1995.2,688 1997.2,688 1999.2,688 2001.2,688 2003.2,688 2005.2,688 2007.2,688 2009.2,688 2011.2,688 2013.2,688 2015.2,688 2017.2,688 2019.2,688 2021.2,688 2023.2,688 2025.2,688 2027.2,688 2029.2,688 2031.2,688 2033.1,688 2035.1,688 2037.1,688 2039.1,688 2041.1,688 2043.1,688 2045.1,688 2047.1,688 2049.1,688 2051.1,688 2053.1,688 2055.1,688 2057.1,688 2059.1,688 2061.1,688 2063.1,688 2065.1,688 2067.1,688 2069.1,688 2071.1,688 2073.1,688 2075.1,688 2077.1,688 2079.1,688 2081.1,688 2083.1,688 2085.1,688 2087.1,688 2089,688 2091,688 2093,688 2095,688 2097,688 2099,688 2101,688 2103,688 2105,688 2107,688 2109,688 2111,688 2113,688 2115,688 2117,688" fill="none" stroke="#ff4242" stroke-width="5.5" stroke-linejoin="round"/>
<path d="M314,740 316,740 318,740 320,740.1 322,740.1 324,740.1 326,740.1 328,740.2 330,740.2 332,740.2 334,740.2 336,740.2 338,740.3 340,740.3 342,740.3 344,740.3 346,740.4 348,740.4 350,740.4 352,740.4 354,740.4 356,740.5 358,740.5 360,740.5 362,740.5 364,740.6 366,740.6 368,740.6 370,740.6 372,740.6 374,740.7 376,740.7 378,740.7 380,740.7 382,740.8 384,740.8 386,740.8 388,740.8 390,740.8 392,740.9 394,740.9 396,740.9 398,740.9 400,741 402,741 404,741 406,741 408,741 410,741.1 412,741.1 414,741.1 416,741.1 418,741.2 420,741.2 422,741.2 424,741.2 426,741.2 428,741.3 430,741.3 432,741.3 434,741.3 436,741.4 438,741.4 440,741.4 442,741.4 444,741.4 446,741.5 448,741.5 450,741.5 452,741.5 454,741.5 456,741.6 458,741.6 460,741.6 462,741.6 464,741.6 466,741.7 468,741.7 470,741.7 472,741.7 474,741.7 476,741.8 478,741.8 480,741.8 482,741.8 484,741.8 486,741.8 488,741.9 490,741.9 492,741.9 494,741.9 496,741.9 498,741.9 500,742 502,742 504,742 506,742 508,742 510,742 512,742.1 514,742.1 516,742.1 518,742.1 520,742.1 522,742.1 524,742.2 526,742.2 528,742.2 530,742.2 532,742.2 534,742.2 536,742.3 538,742.3 540,742.3 542,742.3 544,742.3 546,742.3 548,742.4 550,742.4 552,742.4 554,742.4 556,742.4 558,742.5 560,742.5 562,742.5 564,742.5 566,742.5 568,742.6 570,742.6 572,742.6 574,742.6 576,742.6 578,742.7 580,742.7 582,742.7 584,742.7 586,742.8 588,742.8 590,742.8 592,742.8 594,742.9 596,742.9 598,742.9 600,742.9 602,743 604,743 606,743 608,743 610,743.1 612,743.1 614,743.1 616,743.2 618,743.2 620,743.2 622,743.3 624,743.3 626,743.3 628,743.4 630,743.4 632,743.5 634,743.5 636,743.5 638,743.6 640,743.6 642,743.7 644,743.7 646,743.8 648,743.8 650,743.9 652,743.9 654,744 656,744 658,744.1 660,744.1 662,744.2 664,744.2 666,744.3 668,744.4 670,744.4 672,744.5 674,744.5 676,744.6 678,744.6 680,744.7 682,744.8 684,744.8 686,744.9 688,744.9 690,745 692,745 694,745.1 696,745.2 698,745.2 700,745.3 702,745.3 704,745.4 706,745.4 708,745.5 710,745.5 712,745.6 714,745.6 716,745.7 718,745.7 720,745.8 722,745.9 724,745.9 725.9,746 727.9,746 729.9,746.1 731.9,746.1 733.9,746.2 735.8,746.2 737.8,746.3 739.8,746.3 741.8,746.4 743.8,746.4 745.8,746.5 747.7,746.6 749.7,746.6 751.7,746.7 753.7,746.7 755.7,746.8 757.6,746.8 759.6,746.9 761.6,747 763.6,747 765.6,747.1 767.5,747.1 769.5,747.2 771.5,747.2 773.5,747.3 775.5,747.4 777.5,747.4 779.4,747.5 781.4,747.5 783.4,747.6 785.4,747.6 787.4,747.7 789.3,747.7 791.3,747.8 793.3,747.8 795.3,747.9 797.3,747.9 799.2,748 801.2,748 803.2,748.1 805.2,748.1 807.2,748.2 809.2,748.2 811.1,748.2 813.1,748.3 815.1,748.3 817.1,748.4 819.1,748.4 821,748.4 823,748.5 825,748.5 827,748.5 829,748.6 831,748.6 833,748.6 834.9,748.7 836.9,748.7 838.9,748.7 840.9,748.7 842.9,748.8 844.9,748.8 846.9,748.8 848.9,748.9 850.9,748.9 852.8,748.9 854.8,748.9 856.8,749 858.8,749 860.8,749 862.8,749.1 864.8,749.1 866.8,749.1 868.8,749.1 870.7,749.2 872.7,749.2 874.7,749.2 876.7,749.2 878.7,749.3 880.7,749.3 882.7,749.3 884.7,749.3 886.6,749.4 888.6,749.4 890.6,749.4 892.6,749.4 894.6,749.4 896.6,749.5 898.6,749.5 900.6,749.5 902.6,749.5 904.5,749.6 906.5,749.6 908.5,749.6 910.5,749.6 912.5,749.6 914.5,749.7 916.5,749.7 918.5,749.7 920.5,749.7 922.4,749.7 924.4,749.8 926.4,749.8 928.4,749.8 930.4,749.8 932.4,749.8 934.4,749.9 936.4,749.9 938.4,749.9 940.3,749.9 942.3,749.9 944.3,750 946.3,750 948.3,750 950.3,750 952.3,750 954.3,750.1 956.2,750.1 958.2,750.1 960.2,750.1 962.2,750.1 964.2,750.2 966.2,750.2 968.2,750.2 970.2,750.2 972.2,750.2 974.1,750.3 976.1,750.3 978.1,750.3 980.1,750.3 982.1,750.3 984.1,750.3 986.1,750.4 988.1,750.4 990.1,750.4 992,750.4 994,750.4 996,750.5 998,750.5 1000,750.5 1002,750.5 1004,750.5 1006,750.6 1008,750.6 1010,750.6 1012,750.6 1014,750.6 1016,750.6 1018,750.7 1020,750.7 1022,750.7 1024,750.7 1026,750.7 1028,750.8 1030,750.8 1032,750.8 1034,750.8 1036,750.8 1038,750.8 1040,750.8 1042,750.9 1044,750.9 1046,750.9 1048,750.9 1050,750.9 1052,750.9 1054,751 1056,751 1058,751 1060,751 1062,751 1064,751 1066,751.1 1068,751.1 1070,751.1 1072,751.1 1074,751.1 1076,751.1 1078,751.1 1080,751.2 1082,751.2 1084,751.2 1086,751.2 1088,751.2 1090,751.2 1092,751.3 1094,751.3 1096,751.3 1098,751.3 1100,751.3 1102,751.3 1104,751.4 1106,751.4 1108,751.4 1110,751.4 1112,751.4 1114,751.4 1116,751.5 1118,751.5 1120,751.5 1122,751.5 1124,751.5 1126,751.5 1128,751.6 1130,751.6 1132,751.6 1134,751.6 1136,751.6 1138,751.7 1140,751.7 1142,751.7 1144,751.7 1146,751.8 1148,751.8 1150,751.8 1152,751.8 1154,751.8 1156,751.9 1158,751.9 1160,751.9 1162,751.9 1164,752 1166,752 1168,752 1170,752 1172,752.1 1174,752.1 1176,752.1 1178,752.1 1180,752.2 1182,752.2 1184,752.2 1186,752.2 1188,752.3 1190,752.3 1192,752.3 1194,752.3 1196,752.4 1198,752.4 1200,752.4 1202,752.4 1204,752.5 1206,752.5 1208,752.5 1210,752.6 1212,752.6 1214,752.6 1216,752.7 1218,752.7 1220,752.7 1222,752.7 1224,752.8 1226,752.8 1228,752.8 1230,752.9 1232,752.9 1234,753 1236,753 1238,753 1240,753.1 1242,753.1 1244,753.1 1246,753.2 1248,753.2 1250,753.3 1252,753.3 1254,753.3 1256,753.4 1258,753.4 1260,753.5 1262,753.5 1264,753.6 1266,753.6 1268,753.7 1270,753.7 1272,753.7 1274,753.8 1276,753.8 1278,753.9 1280,754 1281.9,754 1283.9,754.1 1285.9,754.1 1287.8,754.2 1289.8,754.3 1291.8,754.4 1293.7,754.5 1295.7,754.5 1297.7,754.6 1299.6,754.7 1301.6,754.8 1303.6,754.9 1305.5,755 1307.5,755.1 1309.4,755.2 1311.4,755.3 1313.4,755.4 1315.3,755.5 1317.3,755.6 1319.3,755.7 1321.2,755.8 1323.2,755.9 1325.2,756 1327.1,756.1 1329.1,756.2 1331.1,756.3 1333,756.4 1335,756.5 1337,756.6 1338.9,756.7 1340.9,756.8 1342.9,756.8 1344.8,756.9 1346.8,757 1348.8,757.1 1350.7,757.2 1352.7,757.3 1354.7,757.4 1356.6,757.5 1358.6,757.5 1360.6,757.6 1362.5,757.7 1364.5,757.8 1366.4,757.9 1368.4,758 1370.4,758 1372.3,758.1 1374.3,758.2 1376.3,758.3 1378.2,758.4 1380.2,758.5 1382.2,758.6 1384.1,758.7 1386.1,758.7 1388.1,758.8 1390,758.9 1392,759 1394,759.1 1396,759.2 1398,759.3 1400,759.4 1402,759.5 1404,759.6 1406,759.7 1408,759.8 1410,759.9 1412,760.1 1414,760.2 1416,760.3 1418,760.4 1420,760.5 1422,760.6 1424,760.7 1426,760.8 1428,760.8 1430,760.9 1432,761 1434,761.1 1436,761.1 1438,761.2 1440,761.2 1442,761.2 1444,761.3 1446,761.3 1448,761.3 1450,761.4 1452,761.4 1454,761.4 1456,761.4 1458,761.5 1460,761.5 1462,761.5 1464,761.6 1466,761.6 1468,761.6 1470,761.6 1472,761.6 1474,761.7 1476,761.7 1478,761.7 1480,761.7 1482,761.7 1484,761.7 1486,761.8 1488,761.8 1490,761.8 1492,761.8 1494,761.8 1496,761.8 1498,761.8 1500,761.8 2117,761.8" fill="none" stroke="#b4e4d2" stroke-width="13" stroke-linejoin="round" clip-path="url(#plotclip)"/>
<path d="M314,740 316,740 318,740 320,740.1 322,740.1 324,740.1 326,740.1 328,740.2 330,740.2 332,740.2 334,740.2 336,740.2 338,740.3 340,740.3 342,740.3 344,740.3 346,740.4 348,740.4 350,740.4 352,740.4 354,740.4 356,740.5 358,740.5 360,740.5 362,740.5 364,740.6 366,740.6 368,740.6 370,740.6 372,740.6 374,740.7 376,740.7 378,740.7 380,740.7 382,740.8 384,740.8 386,740.8 388,740.8 390,740.8 392,740.9 394,740.9 396,740.9 398,740.9 400,741 402,741 404,741 406,741 408,741 410,741.1 412,741.1 414,741.1 416,741.1 418,741.2 420,741.2 422,741.2 424,741.2 426,741.2 428,741.3 430,741.3 432,741.3 434,741.3 436,741.4 438,741.4 440,741.4 442,741.4 444,741.4 446,741.5 448,741.5 450,741.5 452,741.5 454,741.5 456,741.6 458,741.6 460,741.6 462,741.6 464,741.6 466,741.7 468,741.7 470,741.7 472,741.7 474,741.7 476,741.8 478,741.8 480,741.8 482,741.8 484,741.8 486,741.8 488,741.9 490,741.9 492,741.9 494,741.9 496,741.9 498,741.9 500,742 502,742 504,742 506,742 508,742 510,742 512,742.1 514,742.1 516,742.1 518,742.1 520,742.1 522,742.1 524,742.2 526,742.2 528,742.2 530,742.2 532,742.2 534,742.2 536,742.3 538,742.3 540,742.3 542,742.3 544,742.3 546,742.3 548,742.4 550,742.4 552,742.4 554,742.4 556,742.4 558,742.5 560,742.5 562,742.5 564,742.5 566,742.5 568,742.6 570,742.6 572,742.6 574,742.6 576,742.6 578,742.7 580,742.7 582,742.7 584,742.7 586,742.8 588,742.8 590,742.8 592,742.8 594,742.9 596,742.9 598,742.9 600,742.9 602,743 604,743 606,743 608,743 610,743.1 612,743.1 614,743.1 616,743.2 618,743.2 620,743.2 622,743.3 624,743.3 626,743.3 628,743.4 630,743.4 632,743.5 634,743.5 636,743.5 638,743.6 640,743.6 642,743.7 644,743.7 646,743.8 648,743.8 650,743.9 652,743.9 654,744 656,744 658,744.1 660,744.1 662,744.2 664,744.2 666,744.3 668,744.4 670,744.4 672,744.5 674,744.5 676,744.6 678,744.6 680,744.7 682,744.8 684,744.8 686,744.9 688,744.9 690,745 692,745 694,745.1 696,745.2 698,745.2 700,745.3 702,745.3 704,745.4 706,745.4 708,745.5 710,745.5 712,745.6 714,745.6 716,745.7 718,745.7 720,745.8 722,745.9 724,745.9 725.9,746 727.9,746 729.9,746.1 731.9,746.1 733.9,746.2 735.8,746.2 737.8,746.3 739.8,746.3 741.8,746.4 743.8,746.4 745.8,746.5 747.7,746.6 749.7,746.6 751.7,746.7 753.7,746.7 755.7,746.8 757.6,746.8 759.6,746.9 761.6,747 763.6,747 765.6,747.1 767.5,747.1 769.5,747.2 771.5,747.2 773.5,747.3 775.5,747.4 777.5,747.4 779.4,747.5 781.4,747.5 783.4,747.6 785.4,747.6 787.4,747.7 789.3,747.7 791.3,747.8 793.3,747.8 795.3,747.9 797.3,747.9 799.2,748 801.2,748 803.2,748.1 805.2,748.1 807.2,748.2 809.2,748.2 811.1,748.2 813.1,748.3 815.1,748.3 817.1,748.4 819.1,748.4 821,748.4 823,748.5 825,748.5 827,748.5 829,748.6 831,748.6 833,748.6 834.9,748.7 836.9,748.7 838.9,748.7 840.9,748.7 842.9,748.8 844.9,748.8 846.9,748.8 848.9,748.9 850.9,748.9 852.8,748.9 854.8,748.9 856.8,749 858.8,749 860.8,749 862.8,749.1 864.8,749.1 866.8,749.1 868.8,749.1 870.7,749.2 872.7,749.2 874.7,749.2 876.7,749.2 878.7,749.3 880.7,749.3 882.7,749.3 884.7,749.3 886.6,749.4 888.6,749.4 890.6,749.4 892.6,749.4 894.6,749.4 896.6,749.5 898.6,749.5 900.6,749.5 902.6,749.5 904.5,749.6 906.5,749.6 908.5,749.6 910.5,749.6 912.5,749.6 914.5,749.7 916.5,749.7 918.5,749.7 920.5,749.7 922.4,749.7 924.4,749.8 926.4,749.8 928.4,749.8 930.4,749.8 932.4,749.8 934.4,749.9 936.4,749.9 938.4,749.9 940.3,749.9 942.3,749.9 944.3,750 946.3,750 948.3,750 950.3,750 952.3,750 954.3,750.1 956.2,750.1 958.2,750.1 960.2,750.1 962.2,750.1 964.2,750.2 966.2,750.2 968.2,750.2 970.2,750.2 972.2,750.2 974.1,750.3 976.1,750.3 978.1,750.3 980.1,750.3 982.1,750.3 984.1,750.3 986.1,750.4 988.1,750.4 990.1,750.4 992,750.4 994,750.4 996,750.5 998,750.5 1000,750.5 1002,750.5 1004,750.5 1006,750.6 1008,750.6 1010,750.6 1012,750.6 1014,750.6 1016,750.6 1018,750.7 1020,750.7 1022,750.7 1024,750.7 1026,750.7 1028,750.8 1030,750.8 1032,750.8 1034,750.8 1036,750.8 1038,750.8 1040,750.8 1042,750.9 1044,750.9 1046,750.9 1048,750.9 1050,750.9 1052,750.9 1054,751 1056,751 1058,751 1060,751 1062,751 1064,751 1066,751.1 1068,751.1 1070,751.1 1072,751.1 1074,751.1 1076,751.1 1078,751.1 1080,751.2 1082,751.2 1084,751.2 1086,751.2 1088,751.2 1090,751.2 1092,751.3 1094,751.3 1096,751.3 1098,751.3 1100,751.3 1102,751.3 1104,751.4 1106,751.4 1108,751.4 1110,751.4 1112,751.4 1114,751.4 1116,751.5 1118,751.5 1120,751.5 1122,751.5 1124,751.5 1126,751.5 1128,751.6 1130,751.6 1132,751.6 1134,751.6 1136,751.6 1138,751.7 1140,751.7 1142,751.7 1144,751.7 1146,751.8 1148,751.8 1150,751.8 1152,751.8 1154,751.8 1156,751.9 1158,751.9 1160,751.9 1162,751.9 1164,752 1166,752 1168,752 1170,752 1172,752.1 1174,752.1 1176,752.1 1178,752.1 1180,752.2 1182,752.2 1184,752.2 1186,752.2 1188,752.3 1190,752.3 1192,752.3 1194,752.3 1196,752.4 1198,752.4 1200,752.4 1202,752.4 1204,752.5 1206,752.5 1208,752.5 1210,752.6 1212,752.6 1214,752.6 1216,752.7 1218,752.7 1220,752.7 1222,752.7 1224,752.8 1226,752.8 1228,752.8 1230,752.9 1232,752.9 1234,753 1236,753 1238,753 1240,753.1 1242,753.1 1244,753.1 1246,753.2 1248,753.2 1250,753.3 1252,753.3 1254,753.3 1256,753.4 1258,753.4 1260,753.5 1262,753.5 1264,753.6 1266,753.6 1268,753.7 1270,753.7 1272,753.7 1274,753.8 1276,753.8 1278,753.9 1280,754 1281.9,754 1283.9,754.1 1285.9,754.1 1287.8,754.2 1289.8,754.3 1291.8,754.4 1293.7,754.5 1295.7,754.5 1297.7,754.6 1299.6,754.7 1301.6,754.8 1303.6,754.9 1305.5,755 1307.5,755.1 1309.4,755.2 1311.4,755.3 1313.4,755.4 1315.3,755.5 1317.3,755.6 1319.3,755.7 1321.2,755.8 1323.2,755.9 1325.2,756 1327.1,756.1 1329.1,756.2 1331.1,756.3 1333,756.4 1335,756.5 1337,756.6 1338.9,756.7 1340.9,756.8 1342.9,756.8 1344.8,756.9 1346.8,757 1348.8,757.1 1350.7,757.2 1352.7,757.3 1354.7,757.4 1356.6,757.5 1358.6,757.5 1360.6,757.6 1362.5,757.7 1364.5,757.8 1366.4,757.9 1368.4,758 1370.4,758 1372.3,758.1 1374.3,758.2 1376.3,758.3 1378.2,758.4 1380.2,758.5 1382.2,758.6 1384.1,758.7 1386.1,758.7 1388.1,758.8 1390,758.9 1392,759 1394,759.1 1396,759.2 1398,759.3 1400,759.4 1402,759.5 1404,759.6 1406,759.7 1408,759.8 1410,759.9 1412,760.1 1414,760.2 1416,760.3 1418,760.4 1420,760.5 1422,760.6 1424,760.7 1426,760.8 1428,760.8 1430,760.9 1432,761 1434,761.1 1436,761.1 1438,761.2 1440,761.2 1442,761.2 1444,761.3 1446,761.3 1448,761.3 1450,761.4 1452,761.4 1454,761.4 1456,761.4 1458,761.5 1460,761.5 1462,761.5 1464,761.6 1466,761.6 1468,761.6 1470,761.6 1472,761.6 1474,761.7 1476,761.7 1478,761.7 1480,761.7 1482,761.7 1484,761.7 1486,761.8 1488,761.8 1490,761.8 1492,761.8 1494,761.8 1496,761.8 1498,761.8 1500,761.8 2117,761.8" fill="none" stroke="#00a862" stroke-width="5.5" stroke-linejoin="round"/>
<path d="M314.5,1203 316.5,1192 318.5,1181 319.9,1174.3 321.4,1168 322.7,1161.9 324,1156 325.3,1150.7 326.6,1146 328.2,1140.7 329.9,1135.9 331.5,1131.6 333.2,1127.5 335,1123.8 336.7,1120.3 338.4,1117 340.2,1113.8 341.9,1110.6 343.7,1106.9 345.5,1103.1 347.3,1099.5 349,1096.2 350.8,1093 352.5,1090 354.1,1087.6 355.7,1085.3 357.3,1083 359.1,1080.2 360.8,1077.3 362.6,1074.5 364.2,1072.2 365.8,1070 367.4,1067.8 369,1065.7 370.7,1063.6 372.3,1061.5 374,1059 375.8,1056.5 377.5,1054 379.1,1051.9 380.7,1049.8 382.3,1047.8 384.1,1045.7 385.8,1043.7 387.6,1041.7 389.2,1040 390.8,1038.3 392.4,1036.6 394.2,1034.7 395.9,1032.9 397.7,1031 399.3,1029.4 400.9,1027.7 402.5,1026.1 404.2,1024.4 406,1022.6 407.7,1020.9 409.3,1019.3 411,1017.6 412.6,1016 414.2,1014.4 415.8,1012.9 417.4,1011.5 419.1,1010.1 420.8,1008.9 422.4,1007.6 424.1,1006.4 425.8,1005.2 427.5,1004 429.2,1002.7 431,1001.3 432.7,1000 434.6,998.7 436.6,997.5 438.5,996.3 440.5,995.1 442.4,993.8 444.2,992.6 445.9,991.3 447.7,990 449.6,988.7 451.5,987.4 453.4,986.2 455.3,985 457.1,983.9 458.8,982.9 460.6,981.8 462.3,980.8 464.1,979.8 465.8,978.8 467.6,977.8 469.3,976.8 471.1,975.9 472.8,974.9 474.6,974 476.3,973 478.3,971.9 480.3,970.9 482.2,969.8 484.2,968.8 486.2,967.7 488.2,966.6 490.2,965.5 492.2,964.5 494.2,963.4 496.2,962.4 498.1,961.5 500.1,960.6 502,959.7 504,958.9 505.9,958 507.9,957.2 509.7,956.5 511.5,955.7 513.3,955 515.1,954.3 516.9,953.6 518.7,952.9 520.5,952.2 522.3,951.4 524.1,950.7 525.9,949.9 527.8,949.1 529.6,948.3 531.4,947.6 533.2,946.8 535,946 536.8,945.3 538.6,944.5 540.4,943.8 542.2,943 544,942.3 545.8,941.6 547.6,940.9 549.4,940.2 551.2,939.6 553,938.9 554.9,938.3 556.7,937.6 558.5,937 560.3,936.4 562.3,935.8 564.3,935.1 566.3,934.5 568.3,933.9 570.3,933.3 572.3,932.8 574.3,932.2 576.3,931.6 578.3,931 580.1,930.5 581.9,929.9 583.7,929.4 585.5,928.8 587.3,928.3 589.2,927.8 591,927.2 592.8,926.7 594.6,926.1 596.4,925.6 598.4,925 600.4,924.4 602.4,923.8 604.4,923.2 606.4,922.6 608.4,922 610.4,921.5 612.4,920.9 614.4,920.3 616.2,919.8 618,919.3 619.8,918.8 621.6,918.2 623.5,917.7 625.3,917.2 627.1,916.7 628.9,916.3 630.7,915.8 632.5,915.3 634.4,914.8 636.3,914.3 638.2,913.9 640.2,913.4 642.1,913 644,912.5 645.9,912.1 647.8,911.7 649.8,911.2 651.7,910.7 653.6,910.3 655.5,909.8 657.4,909.3 659.3,908.8 661.3,908.4 663.2,907.9 665.1,907.4 667,906.9 668.9,906.4 670.9,905.8 672.8,905.2 674.7,904.6 676.5,904 678.2,903.3 680,902.5 681.8,901.7 683.6,900.9 685.3,900.1 687.1,899.4 689,898.6 690.9,897.9 692.8,897.1 694.7,896.4 696.6,895.6 698.5,894.9 700.4,894.1 702.2,893.4 703.9,892.6 705.7,891.8 707.4,891 709.2,890.2 710.9,889.5 712.7,888.8 714.6,888.1 716.5,887.4 718.4,886.8 720.3,886.1 722.2,885.5 724.1,884.9 726,884.3 727.9,883.7 729.8,883.1 731.7,882.5 733.6,881.9 735.5,881.3 737.4,880.7 739.3,880.1 741.2,879.6 743.1,879 745,878.5 747,878 749,877.5 751,877 752.9,876.5 754.9,876 756.9,875.5 758.9,875.1 760.9,874.6 762.8,874.2 764.8,873.7 766.8,873.3 768.8,872.8 770.8,872.3 772.8,871.9 774.7,871.4 776.7,871 778.7,870.6 780.6,870.1 782.6,869.7 784.6,869.2 786.6,868.8 788.5,868.4 790.5,867.9 792.5,867.5 794.5,867.1 796.5,866.6 798.5,866.2 800.4,865.7 802.4,865.3 804.4,864.8 806.4,864.4 808.4,864 810.3,863.5 812.3,863.1 814.3,862.7 816.3,862.3 818.2,861.9 820.1,861.6 822,861.2 823.9,860.8 825.8,860.5 827.7,860.1 829.6,859.8 831.5,859.4 833.4,859.1 835.3,858.8 837.2,858.4 839.1,858.1 841,857.8 842.9,857.4 844.8,857.1 846.7,856.8 848.6,856.4 850.5,856.1 852.4,855.8 854.3,855.5 856.2,855.1 858.1,854.8 860,854.5 862,854.2 864,853.8 866,853.5 868,853.2 870,852.9 872,852.5 874,852.2 876,851.9 878,851.6 880,851.3 882,851 884,850.6 886,850.3 888,850.1 890,849.8 892,849.5 894,849.2 896,848.9 897.9,848.7 899.9,848.4 901.8,848.2 903.8,847.9 905.7,847.7 907.7,847.4 909.6,847.2 911.6,846.9 913.5,846.7 915.5,846.5 917.5,846.2 919.4,846 921.4,845.8 923.3,845.5 925.3,845.3 927.2,845.1 929.2,844.9 931.1,844.6 933.1,844.4 935,844.2 937,844 939,843.8 941,843.6 943,843.4 945,843.1 947,842.9 949,842.7 951,842.5 953,842.3 955,842.1 957,841.9 959,841.7 961,841.5 963,841.3 965,841.1 967,840.9 969,840.7 971,840.5 973,840.4 975,840.2 977,840 979,839.8 981,839.6 983,839.4 985,839.2 987,839 989,838.8 990.9,838.6 992.9,838.4 994.9,838.2 996.8,838 998.8,837.8 1000.8,837.6 1002.7,837.4 1004.7,837.2 1006.7,837 1008.6,836.9 1010.6,836.7 1012.6,836.5 1014.5,836.3 1016.5,836.1 1018.5,835.9 1020.4,835.7 1022.4,835.5 1024.4,835.3 1026.3,835.1 1028.3,834.9 1030.3,834.8 1032.2,834.6 1034.2,834.4 1036.2,834.2 1038.1,834.1 1040.1,833.9 1042.1,833.7 1044,833.6 1046,833.4 1048,833.2 1049.9,833.1 1051.9,832.9 1053.9,832.8 1055.9,832.6 1057.8,832.5 1059.8,832.3 1061.8,832.2 1063.8,832.1 1065.7,831.9 1067.7,831.8 1069.7,831.6 1071.7,831.5 1073.6,831.4 1075.6,831.2 1077.6,831.1 1079.6,831 1081.5,830.8 1083.5,830.7 1085.5,830.6 1087.5,830.4 1089.4,830.3 1091.4,830.2 1093.4,830 1095.4,829.9 1097.3,829.8 1099.3,829.7 1101.3,829.5 1103.3,829.4 1105.2,829.3 1107.2,829.1 1109.2,829 1111.2,828.9 1113.1,828.8 1115.1,828.6 1117.1,828.5 1119.1,828.4 1121,828.2 1123,828.1 1125,828 1127,827.8 1128.9,827.7 1130.9,827.6 1132.9,827.4 1134.9,827.3 1136.8,827.2 1138.8,827 1140.8,826.9 1142.8,826.7 1144.7,826.6 1146.7,826.5 1148.7,826.3 1150.7,826.2 1152.6,826.1 1154.6,825.9 1156.6,825.8 1158.6,825.7 1160.5,825.5 1162.5,825.4 1164.5,825.3 1166.5,825.1 1168.4,825 1170.4,824.9 1172.4,824.7 1174.4,824.6 1176.3,824.5 1178.3,824.3 1180.3,824.2 1182.3,824.1 1184.2,824 1186.2,823.8 1188.2,823.7 1190.2,823.6 1192.1,823.5 1194.1,823.4 1196.1,823.2 1198.1,823.1 1200,823 1202,822.9 1204,822.8 1206,822.7 1208,822.6 1210,822.5 1211.9,822.4 1213.9,822.3 1215.9,822.2 1217.9,822.1 1219.9,822 1221.9,821.9 1223.8,821.8 1225.8,821.7 1227.8,821.6 1229.8,821.5 1231.8,821.4 1233.8,821.3 1235.7,821.2 1237.7,821.1 1239.7,821 1241.7,820.9 1243.7,820.8 1245.7,820.7 1247.6,820.6 1249.6,820.5 1251.6,820.4 1253.6,820.3 1255.6,820.2 1257.6,820.1 1259.5,820 1261.5,820 1263.5,819.9 1265.5,819.8 1267.5,819.7 1269.5,819.6 1271.4,819.5 1273.4,819.4 1275.4,819.3 1277.4,819.2 1279.4,819.2 1281.4,819.1 1283.3,819 1285.3,818.9 1287.3,818.8 1289.3,818.7 1291.3,818.6 1293.3,818.6 1295.2,818.5 1297.2,818.4 1299.2,818.3 1301.2,818.2 1303.2,818.1 1305.2,818 1307.1,818 1309.1,817.9 1311.1,817.8 1313.1,817.7 1315.1,817.6 1317.1,817.5 1319,817.5 1321,817.4 1323,817.3 1325,817.2 1327,817.1 1328.9,817 1330.9,816.9 1332.9,816.9 1334.9,816.8 1336.8,816.7 1338.8,816.6 1340.8,816.5 1342.8,816.4 1344.7,816.3 1346.7,816.3 1348.7,816.2 1350.7,816.1 1352.6,816 1354.6,815.9 1356.6,815.8 1358.6,815.8 1360.5,815.7 1362.5,815.6 1364.5,815.5 1366.4,815.4 1368.4,815.3 1370.4,815.3 1372.4,815.2 1374.3,815.1 1376.3,815 1378.3,815 1380.3,814.9 1382.2,814.8 1384.2,814.7 1386.2,814.7 1388.2,814.6 1390.1,814.5 1392.1,814.5 1394.1,814.4 1396.1,814.3 1398,814.3 1400,814.2 1402,814.1 1404,814.1 1405.9,814 1407.9,814 1409.9,813.9 1411.9,813.8 1413.8,813.8 1415.8,813.7 1417.8,813.7 1419.8,813.6 1421.8,813.6 1423.7,813.5 1425.7,813.5 1427.7,813.4 1429.7,813.4 1431.6,813.3 1433.6,813.3 1435.6,813.2 1437.6,813.1 1439.6,813.1 1441.5,813.1 1443.5,813 1445.5,813 1447.5,812.9 1449.4,812.9 1451.4,812.8 1453.4,812.8 1455.4,812.7 1457.4,812.7 1459.3,812.6 1461.3,812.6 1463.3,812.5 1465.3,812.5 1467.2,812.5 1469.2,812.4 1471.2,812.4 1473.2,812.3 1475.2,812.3 1477.1,812.2 1479.1,812.2 1481.1,812.2 1483.1,812.1 1485,812.1 1487,812 1489,812 1491,812 1493,811.9 1494.9,811.9 1496.9,811.8 1498.9,811.8 1500.9,811.8 1502.9,811.7 1504.9,811.7 1506.8,811.7 1508.8,811.6 1510.8,811.6 1512.8,811.6 1514.8,811.5 1516.8,811.5 1518.7,811.4 1520.7,811.4 1522.7,811.4 1524.7,811.3 1526.7,811.3 1528.6,811.3 1530.6,811.2 1532.6,811.2 1534.6,811.2 1536.6,811.1 1538.6,811.1 1540.5,811.1 1542.5,811 1544.5,811 1546.5,811 1548.5,811 1550.4,810.9 1552.4,810.9 1554.4,810.9 1556.4,810.8 1558.4,810.8 1560.4,810.8 1562.3,810.7 1564.3,810.7 1566.3,810.7 1568.3,810.7 1570.3,810.6 1572.2,810.6 1574.2,810.6 1576.2,810.5 1578.2,810.5 1580.2,810.5 1582.2,810.4 1584.1,810.4 1586.1,810.4 1588.1,810.4 1590.1,810.3 1592.1,810.3 1594.1,810.3 1596,810.3 1598,810.2 1600,810.2 1602,810.2 1604,810.1 1606,810.1 1608,810.1 1610,810.1 1612,810 1614,810 1616,810 1618,810 1620,809.9 1622,809.9 1624,809.9 1626,809.9 1628,809.8 1630,809.8 1632,809.8 1634,809.8 1636,809.7 1638,809.7 1640,809.7 1642,809.7 1644,809.6 1646,809.6 1648,809.6 1650,809.6 1652,809.5 1654,809.5 1656,809.5 1658,809.5 1660,809.5 1662,809.4 1664,809.4 1666,809.4 1668,809.4 1670,809.3 1672,809.3 1674,809.3 1676,809.3 1678,809.3 1680,809.2 1682,809.2 1684,809.2 1686,809.2 1688,809.1 1690,809.1 1692,809.1 1694,809.1 1696,809 1698,809 1700,809 1702,809 1704,809 1706,808.9 1708,808.9 1710,808.9 1712,808.9 1714,808.8 1716,808.8 1718,808.8 1720,808.8 1722,808.7 1724,808.7 1726,808.7 1728,808.7 1730,808.6 1732,808.6 1734,808.6 1736,808.6 1738,808.5 1740,808.5 1742,808.5 1744,808.5 1746,808.4 1748,808.4 1750,808.4 1752,808.4 1754,808.4 1756,808.3 1758,808.3 1760,808.3 1762,808.3 1764,808.2 1766,808.2 1768,808.2 1770,808.2 1772,808.2 1774,808.1 1776,808.1 1778,808.1 1780,808.1 1782,808.1 1784,808 1786,808 1788,808 1790,808 1792,808 1794,807.9 1796,807.9 1798,807.9 1800,807.9 1802,807.9 1804,807.9 1806,807.9 1808,807.8 1810,807.8 1812,807.8 1814,807.8 1816,807.8 1818,807.8 1820,807.8 1822,807.7 1824,807.7 1826,807.7 1828,807.7 1830,807.7 1832,807.7 1834,807.7 1836,807.6 1838,807.6 1840,807.6 1842,807.6 1844,807.6 1846,807.6 1848,807.6 1850,807.6 1852,807.5 1854,807.5 1856,807.5 1858,807.5 1860,807.5 1862,807.5 1864,807.5 1866,807.5 1868,807.5 1870,807.4 1872,807.4 1874,807.4 1876,807.4 1878,807.4 1880,807.4 1882,807.4 1884,807.4 1886,807.4 1888,807.3 1890,807.3 1892,807.3 1894,807.3 1896,807.3 1898,807.3 1900,807.3 1902,807.3 1904,807.3 1906,807.3 1908,807.2 1910,807.2 1912,807.2 1914,807.2 1916,807.2 1918,807.2 1920,807.2 1922,807.2 1924,807.2 1926,807.2 1928,807.2 1930,807.2 1932,807.2 1934,807.1 1936,807.1 1938,807.1 1940,807.1 1942,807.1 1944,807.1 1946,807.1 1948,807.1 1950,807.1 1952,807.1 1954,807.1 1956,807.1 1958,807.1 1959.9,807.1 1961.9,807.1 1963.9,807.1 1965.9,807.1 1967.9,807.1 1969.9,807.1 1971.9,807 1973.9,807 1975.8,807 1977.8,807 1979.8,807 1981.8,807 1983.8,807 1985.8,807 1987.8,807 1989.8,807 1991.8,807 1993.7,807 1995.7,807 1997.7,807 1999.7,807 2001.7,807 2003.7,807 2005.7,807 2007.7,807 2009.6,807 2011.6,807 2013.6,807 2015.6,807 2017.6,807 2019.6,807 2021.6,807 2023.6,806.9 2025.5,806.9 2027.5,806.9 2029.5,806.9 2031.5,806.9 2033.5,806.9 2035.5,806.9 2037.5,806.9 2039.5,806.9 2041.5,806.9 2043.4,806.9 2045.4,806.9 2047.4,806.9 2049.4,806.9 2051.4,806.9 2053.4,806.9 2055.4,806.9 2057.4,806.9 2059.3,806.9 2061.3,806.9 2063.3,806.9 2065.3,806.9 2067.3,806.9 2069.3,806.9 2071.3,806.9 2073.3,806.9 2075.2,806.9 2077.2,806.9 2079.2,806.9 2081.2,806.9 2083.2,806.9 2085.2,806.9 2087.2,806.8 2089.2,806.8 2091.2,806.8 2093.1,806.8 2095.1,806.8 2097.1,806.8 2099.1,806.8 2101.1,806.8 2103.1,806.8 2105.1,806.8 2107.1,806.8 2109,806.8 2111,806.8 2113,806.8 2115,806.8 2117,806.8" fill="none" stroke="#a4cef2" stroke-width="11" stroke-linejoin="round" clip-path="url(#plotclip)"/>
<path d="M314.5,1203 316.5,1192 318.5,1181 319.9,1174.3 321.4,1168 322.7,1161.9 324,1156 325.3,1150.7 326.6,1146 328.2,1140.7 329.9,1135.9 331.5,1131.6 333.2,1127.5 335,1123.8 336.7,1120.3 338.4,1117 340.2,1113.8 341.9,1110.6 343.7,1106.9 345.5,1103.1 347.3,1099.5 349,1096.2 350.8,1093 352.5,1090 354.1,1087.6 355.7,1085.3 357.3,1083 359.1,1080.2 360.8,1077.3 362.6,1074.5 364.2,1072.2 365.8,1070 367.4,1067.8 369,1065.7 370.7,1063.6 372.3,1061.5 374,1059 375.8,1056.5 377.5,1054 379.1,1051.9 380.7,1049.8 382.3,1047.8 384.1,1045.7 385.8,1043.7 387.6,1041.7 389.2,1040 390.8,1038.3 392.4,1036.6 394.2,1034.7 395.9,1032.9 397.7,1031 399.3,1029.4 400.9,1027.7 402.5,1026.1 404.2,1024.4 406,1022.6 407.7,1020.9 409.3,1019.3 411,1017.6 412.6,1016 414.2,1014.4 415.8,1012.9 417.4,1011.5 419.1,1010.1 420.8,1008.9 422.4,1007.6 424.1,1006.4 425.8,1005.2 427.5,1004 429.2,1002.7 431,1001.3 432.7,1000 434.6,998.7 436.6,997.5 438.5,996.3 440.5,995.1 442.4,993.8 444.2,992.6 445.9,991.3 447.7,990 449.6,988.7 451.5,987.4 453.4,986.2 455.3,985 457.1,983.9 458.8,982.9 460.6,981.8 462.3,980.8 464.1,979.8 465.8,978.8 467.6,977.8 469.3,976.8 471.1,975.9 472.8,974.9 474.6,974 476.3,973 478.3,971.9 480.3,970.9 482.2,969.8 484.2,968.8 486.2,967.7 488.2,966.6 490.2,965.5 492.2,964.5 494.2,963.4 496.2,962.4 498.1,961.5 500.1,960.6 502,959.7 504,958.9 505.9,958 507.9,957.2 509.7,956.5 511.5,955.7 513.3,955 515.1,954.3 516.9,953.6 518.7,952.9 520.5,952.2 522.3,951.4 524.1,950.7 525.9,949.9 527.8,949.1 529.6,948.3 531.4,947.6 533.2,946.8 535,946 536.8,945.3 538.6,944.5 540.4,943.8 542.2,943 544,942.3 545.8,941.6 547.6,940.9 549.4,940.2 551.2,939.6 553,938.9 554.9,938.3 556.7,937.6 558.5,937 560.3,936.4 562.3,935.8 564.3,935.1 566.3,934.5 568.3,933.9 570.3,933.3 572.3,932.8 574.3,932.2 576.3,931.6 578.3,931 580.1,930.5 581.9,929.9 583.7,929.4 585.5,928.8 587.3,928.3 589.2,927.8 591,927.2 592.8,926.7 594.6,926.1 596.4,925.6 598.4,925 600.4,924.4 602.4,923.8 604.4,923.2 606.4,922.6 608.4,922 610.4,921.5 612.4,920.9 614.4,920.3 616.2,919.8 618,919.3 619.8,918.8 621.6,918.2 623.5,917.7 625.3,917.2 627.1,916.7 628.9,916.3 630.7,915.8 632.5,915.3 634.4,914.8 636.3,914.3 638.2,913.9 640.2,913.4 642.1,913 644,912.5 645.9,912.1 647.8,911.7 649.8,911.2 651.7,910.7 653.6,910.3 655.5,909.8 657.4,909.3 659.3,908.8 661.3,908.4 663.2,907.9 665.1,907.4 667,906.9 668.9,906.4 670.9,905.8 672.8,905.2 674.7,904.6 676.5,904 678.2,903.3 680,902.5 681.8,901.7 683.6,900.9 685.3,900.1 687.1,899.4 689,898.6 690.9,897.9 692.8,897.1 694.7,896.4 696.6,895.6 698.5,894.9 700.4,894.1 702.2,893.4 703.9,892.6 705.7,891.8 707.4,891 709.2,890.2 710.9,889.5 712.7,888.8 714.6,888.1 716.5,887.4 718.4,886.8 720.3,886.1 722.2,885.5 724.1,884.9 726,884.3 727.9,883.7 729.8,883.1 731.7,882.5 733.6,881.9 735.5,881.3 737.4,880.7 739.3,880.1 741.2,879.6 743.1,879 745,878.5 747,878 749,877.5 751,877 752.9,876.5 754.9,876 756.9,875.5 758.9,875.1 760.9,874.6 762.8,874.2 764.8,873.7 766.8,873.3 768.8,872.8 770.8,872.3 772.8,871.9 774.7,871.4 776.7,871 778.7,870.6 780.6,870.1 782.6,869.7 784.6,869.2 786.6,868.8 788.5,868.4 790.5,867.9 792.5,867.5 794.5,867.1 796.5,866.6 798.5,866.2 800.4,865.7 802.4,865.3 804.4,864.8 806.4,864.4 808.4,864 810.3,863.5 812.3,863.1 814.3,862.7 816.3,862.3 818.2,861.9 820.1,861.6 822,861.2 823.9,860.8 825.8,860.5 827.7,860.1 829.6,859.8 831.5,859.4 833.4,859.1 835.3,858.8 837.2,858.4 839.1,858.1 841,857.8 842.9,857.4 844.8,857.1 846.7,856.8 848.6,856.4 850.5,856.1 852.4,855.8 854.3,855.5 856.2,855.1 858.1,854.8 860,854.5 862,854.2 864,853.8 866,853.5 868,853.2 870,852.9 872,852.5 874,852.2 876,851.9 878,851.6 880,851.3 882,851 884,850.6 886,850.3 888,850.1 890,849.8 892,849.5 894,849.2 896,848.9 897.9,848.7 899.9,848.4 901.8,848.2 903.8,847.9 905.7,847.7 907.7,847.4 909.6,847.2 911.6,846.9 913.5,846.7 915.5,846.5 917.5,846.2 919.4,846 921.4,845.8 923.3,845.5 925.3,845.3 927.2,845.1 929.2,844.9 931.1,844.6 933.1,844.4 935,844.2 937,844 939,843.8 941,843.6 943,843.4 945,843.1 947,842.9 949,842.7 951,842.5 953,842.3 955,842.1 957,841.9 959,841.7 961,841.5 963,841.3 965,841.1 967,840.9 969,840.7 971,840.5 973,840.4 975,840.2 977,840 979,839.8 981,839.6 983,839.4 985,839.2 987,839 989,838.8 990.9,838.6 992.9,838.4 994.9,838.2 996.8,838 998.8,837.8 1000.8,837.6 1002.7,837.4 1004.7,837.2 1006.7,837 1008.6,836.9 1010.6,836.7 1012.6,836.5 1014.5,836.3 1016.5,836.1 1018.5,835.9 1020.4,835.7 1022.4,835.5 1024.4,835.3 1026.3,835.1 1028.3,834.9 1030.3,834.8 1032.2,834.6 1034.2,834.4 1036.2,834.2 1038.1,834.1 1040.1,833.9 1042.1,833.7 1044,833.6 1046,833.4 1048,833.2 1049.9,833.1 1051.9,832.9 1053.9,832.8 1055.9,832.6 1057.8,832.5 1059.8,832.3 1061.8,832.2 1063.8,832.1 1065.7,831.9 1067.7,831.8 1069.7,831.6 1071.7,831.5 1073.6,831.4 1075.6,831.2 1077.6,831.1 1079.6,831 1081.5,830.8 1083.5,830.7 1085.5,830.6 1087.5,830.4 1089.4,830.3 1091.4,830.2 1093.4,830 1095.4,829.9 1097.3,829.8 1099.3,829.7 1101.3,829.5 1103.3,829.4 1105.2,829.3 1107.2,829.1 1109.2,829 1111.2,828.9 1113.1,828.8 1115.1,828.6 1117.1,828.5 1119.1,828.4 1121,828.2 1123,828.1 1125,828 1127,827.8 1128.9,827.7 1130.9,827.6 1132.9,827.4 1134.9,827.3 1136.8,827.2 1138.8,827 1140.8,826.9 1142.8,826.7 1144.7,826.6 1146.7,826.5 1148.7,826.3 1150.7,826.2 1152.6,826.1 1154.6,825.9 1156.6,825.8 1158.6,825.7 1160.5,825.5 1162.5,825.4 1164.5,825.3 1166.5,825.1 1168.4,825 1170.4,824.9 1172.4,824.7 1174.4,824.6 1176.3,824.5 1178.3,824.3 1180.3,824.2 1182.3,824.1 1184.2,824 1186.2,823.8 1188.2,823.7 1190.2,823.6 1192.1,823.5 1194.1,823.4 1196.1,823.2 1198.1,823.1 1200,823 1202,822.9 1204,822.8 1206,822.7 1208,822.6 1210,822.5 1211.9,822.4 1213.9,822.3 1215.9,822.2 1217.9,822.1 1219.9,822 1221.9,821.9 1223.8,821.8 1225.8,821.7 1227.8,821.6 1229.8,821.5 1231.8,821.4 1233.8,821.3 1235.7,821.2 1237.7,821.1 1239.7,821 1241.7,820.9 1243.7,820.8 1245.7,820.7 1247.6,820.6 1249.6,820.5 1251.6,820.4 1253.6,820.3 1255.6,820.2 1257.6,820.1 1259.5,820 1261.5,820 1263.5,819.9 1265.5,819.8 1267.5,819.7 1269.5,819.6 1271.4,819.5 1273.4,819.4 1275.4,819.3 1277.4,819.2 1279.4,819.2 1281.4,819.1 1283.3,819 1285.3,818.9 1287.3,818.8 1289.3,818.7 1291.3,818.6 1293.3,818.6 1295.2,818.5 1297.2,818.4 1299.2,818.3 1301.2,818.2 1303.2,818.1 1305.2,818 1307.1,818 1309.1,817.9 1311.1,817.8 1313.1,817.7 1315.1,817.6 1317.1,817.5 1319,817.5 1321,817.4 1323,817.3 1325,817.2 1327,817.1 1328.9,817 1330.9,816.9 1332.9,816.9 1334.9,816.8 1336.8,816.7 1338.8,816.6 1340.8,816.5 1342.8,816.4 1344.7,816.3 1346.7,816.3 1348.7,816.2 1350.7,816.1 1352.6,816 1354.6,815.9 1356.6,815.8 1358.6,815.8 1360.5,815.7 1362.5,815.6 1364.5,815.5 1366.4,815.4 1368.4,815.3 1370.4,815.3 1372.4,815.2 1374.3,815.1 1376.3,815 1378.3,815 1380.3,814.9 1382.2,814.8 1384.2,814.7 1386.2,814.7 1388.2,814.6 1390.1,814.5 1392.1,814.5 1394.1,814.4 1396.1,814.3 1398,814.3 1400,814.2 1402,814.1 1404,814.1 1405.9,814 1407.9,814 1409.9,813.9 1411.9,813.8 1413.8,813.8 1415.8,813.7 1417.8,813.7 1419.8,813.6 1421.8,813.6 1423.7,813.5 1425.7,813.5 1427.7,813.4 1429.7,813.4 1431.6,813.3 1433.6,813.3 1435.6,813.2 1437.6,813.1 1439.6,813.1 1441.5,813.1 1443.5,813 1445.5,813 1447.5,812.9 1449.4,812.9 1451.4,812.8 1453.4,812.8 1455.4,812.7 1457.4,812.7 1459.3,812.6 1461.3,812.6 1463.3,812.5 1465.3,812.5 1467.2,812.5 1469.2,812.4 1471.2,812.4 1473.2,812.3 1475.2,812.3 1477.1,812.2 1479.1,812.2 1481.1,812.2 1483.1,812.1 1485,812.1 1487,812 1489,812 1491,812 1493,811.9 1494.9,811.9 1496.9,811.8 1498.9,811.8 1500.9,811.8 1502.9,811.7 1504.9,811.7 1506.8,811.7 1508.8,811.6 1510.8,811.6 1512.8,811.6 1514.8,811.5 1516.8,811.5 1518.7,811.4 1520.7,811.4 1522.7,811.4 1524.7,811.3 1526.7,811.3 1528.6,811.3 1530.6,811.2 1532.6,811.2 1534.6,811.2 1536.6,811.1 1538.6,811.1 1540.5,811.1 1542.5,811 1544.5,811 1546.5,811 1548.5,811 1550.4,810.9 1552.4,810.9 1554.4,810.9 1556.4,810.8 1558.4,810.8 1560.4,810.8 1562.3,810.7 1564.3,810.7 1566.3,810.7 1568.3,810.7 1570.3,810.6 1572.2,810.6 1574.2,810.6 1576.2,810.5 1578.2,810.5 1580.2,810.5 1582.2,810.4 1584.1,810.4 1586.1,810.4 1588.1,810.4 1590.1,810.3 1592.1,810.3 1594.1,810.3 1596,810.3 1598,810.2 1600,810.2 1602,810.2 1604,810.1 1606,810.1 1608,810.1 1610,810.1 1612,810 1614,810 1616,810 1618,810 1620,809.9 1622,809.9 1624,809.9 1626,809.9 1628,809.8 1630,809.8 1632,809.8 1634,809.8 1636,809.7 1638,809.7 1640,809.7 1642,809.7 1644,809.6 1646,809.6 1648,809.6 1650,809.6 1652,809.5 1654,809.5 1656,809.5 1658,809.5 1660,809.5 1662,809.4 1664,809.4 1666,809.4 1668,809.4 1670,809.3 1672,809.3 1674,809.3 1676,809.3 1678,809.3 1680,809.2 1682,809.2 1684,809.2 1686,809.2 1688,809.1 1690,809.1 1692,809.1 1694,809.1 1696,809 1698,809 1700,809 1702,809 1704,809 1706,808.9 1708,808.9 1710,808.9 1712,808.9 1714,808.8 1716,808.8 1718,808.8 1720,808.8 1722,808.7 1724,808.7 1726,808.7 1728,808.7 1730,808.6 1732,808.6 1734,808.6 1736,808.6 1738,808.5 1740,808.5 1742,808.5 1744,808.5 1746,808.4 1748,808.4 1750,808.4 1752,808.4 1754,808.4 1756,808.3 1758,808.3 1760,808.3 1762,808.3 1764,808.2 1766,808.2 1768,808.2 1770,808.2 1772,808.2 1774,808.1 1776,808.1 1778,808.1 1780,808.1 1782,808.1 1784,808 1786,808 1788,808 1790,808 1792,808 1794,807.9 1796,807.9 1798,807.9 1800,807.9 1802,807.9 1804,807.9 1806,807.9 1808,807.8 1810,807.8 1812,807.8 1814,807.8 1816,807.8 1818,807.8 1820,807.8 1822,807.7 1824,807.7 1826,807.7 1828,807.7 1830,807.7 1832,807.7 1834,807.7 1836,807.6 1838,807.6 1840,807.6 1842,807.6 1844,807.6 1846,807.6 1848,807.6 1850,807.6 1852,807.5 1854,807.5 1856,807.5 1858,807.5 1860,807.5 1862,807.5 1864,807.5 1866,807.5 1868,807.5 1870,807.4 1872,807.4 1874,807.4 1876,807.4 1878,807.4 1880,807.4 1882,807.4 1884,807.4 1886,807.4 1888,807.3 1890,807.3 1892,807.3 1894,807.3 1896,807.3 1898,807.3 1900,807.3 1902,807.3 1904,807.3 1906,807.3 1908,807.2 1910,807.2 1912,807.2 1914,807.2 1916,807.2 1918,807.2 1920,807.2 1922,807.2 1924,807.2 1926,807.2 1928,807.2 1930,807.2 1932,807.2 1934,807.1 1936,807.1 1938,807.1 1940,807.1 1942,807.1 1944,807.1 1946,807.1 1948,807.1 1950,807.1 1952,807.1 1954,807.1 1956,807.1 1958,807.1 1959.9,807.1 1961.9,807.1 1963.9,807.1 1965.9,807.1 1967.9,807.1 1969.9,807.1 1971.9,807 1973.9,807 1975.8,807 1977.8,807 1979.8,807 1981.8,807 1983.8,807 1985.8,807 1987.8,807 1989.8,807 1991.8,807 1993.7,807 1995.7,807 1997.7,807 1999.7,807 2001.7,807 2003.7,807 2005.7,807 2007.7,807 2009.6,807 2011.6,807 2013.6,807 2015.6,807 2017.6,807 2019.6,807 2021.6,807 2023.6,806.9 2025.5,806.9 2027.5,806.9 2029.5,806.9 2031.5,806.9 2033.5,806.9 2035.5,806.9 2037.5,806.9 2039.5,806.9 2041.5,806.9 2043.4,806.9 2045.4,806.9 2047.4,806.9 2049.4,806.9 2051.4,806.9 2053.4,806.9 2055.4,806.9 2057.4,806.9 2059.3,806.9 2061.3,806.9 2063.3,806.9 2065.3,806.9 2067.3,806.9 2069.3,806.9 2071.3,806.9 2073.3,806.9 2075.2,806.9 2077.2,806.9 2079.2,806.9 2081.2,806.9 2083.2,806.9 2085.2,806.9 2087.2,806.8 2089.2,806.8 2091.2,806.8 2093.1,806.8 2095.1,806.8 2097.1,806.8 2099.1,806.8 2101.1,806.8 2103.1,806.8 2105.1,806.8 2107.1,806.8 2109,806.8 2111,806.8 2113,806.8 2115,806.8 2117,806.8" fill="none" stroke="#0a80de" stroke-width="6.5" stroke-linejoin="round"/>
</g>
<g id="labels">
<text x="137.34" y="83.91" font-size="69.26" textLength="146.32" lengthAdjust="spacingAndGlyphs"><tspan stroke="#3a3a3a" stroke-width="3" dy="1">−</tspan><tspan dy="-1">1.56</tspan></text>
<text x="137.34" y="302.01" font-size="69.26" textLength="146.32" lengthAdjust="spacingAndGlyphs"><tspan stroke="#3a3a3a" stroke-width="3" dy="1">−</tspan><tspan dy="-1">1.58</tspan></text>
<text x="137.34" y="520.11" font-size="69.26" textLength="146.32" lengthAdjust="spacingAndGlyphs"><tspan stroke="#3a3a3a" stroke-width="3" dy="1">−</tspan><tspan dy="-1">1.60</tspan></text>
<text x="137.31" y="738.21" font-size="69.26" textLength="147.64" lengthAdjust="spacingAndGlyphs"><tspan stroke="#3a3a3a" stroke-width="3" dy="1">−</tspan><tspan dy="-1">1.62</tspan></text>
<text x="137.37" y="956.31" font-size="69.26" textLength="145.01" lengthAdjust="spacingAndGlyphs"><tspan stroke="#3a3a3a" stroke-width="3" dy="1">−</tspan><tspan dy="-1">1.64</tspan></text>
<text x="137.34" y="1174.41" font-size="69.26" textLength="146.32" lengthAdjust="spacingAndGlyphs"><tspan stroke="#3a3a3a" stroke-width="3" dy="1">−</tspan><tspan dy="-1">1.66</tspan></text>
<text x="137.34" y="1392.51" font-size="69.26" textLength="146.32" lengthAdjust="spacingAndGlyphs"><tspan stroke="#3a3a3a" stroke-width="3" dy="1">−</tspan><tspan dy="-1">1.68</tspan></text>
<text x="137.34" y="1610.61" font-size="69.26" textLength="146.32" lengthAdjust="spacingAndGlyphs"><tspan stroke="#3a3a3a" stroke-width="3" dy="1">−</tspan><tspan dy="-1">1.70</tspan></text>
<text x="297.48" y="1672.94" font-size="68.21" textLength="31.55" lengthAdjust="spacingAndGlyphs">0</text>
<text x="565.49" y="1672.94" font-size="68.21" textLength="96.38" lengthAdjust="spacingAndGlyphs">300</text>
<text x="868.94" y="1672.94" font-size="68.21" textLength="95.92" lengthAdjust="spacingAndGlyphs">600</text>
<text x="1170.67" y="1672.94" font-size="68.21" textLength="91.26" lengthAdjust="spacingAndGlyphs">900</text>
<text x="1456.42" y="1672.96" font-size="67.21" textLength="124.06" lengthAdjust="spacingAndGlyphs">1200</text>
<text x="1759.13" y="1672.96" font-size="67.21" textLength="119.25" lengthAdjust="spacingAndGlyphs">1500</text>
<text x="2061.17" y="1672.96" font-size="67.21" textLength="118.50" lengthAdjust="spacingAndGlyphs">1800</text>
<text x="1091.16" y="1789.02" font-size="97.73" textLength="251.79" lengthAdjust="spacingAndGlyphs" class="tt">Time/s</text>
<text class="tt" transform="translate(95.93,966.88) rotate(-90)" x="0" y="0" font-size="95.56" textLength="323.10" lengthAdjust="spacingAndGlyphs">OCP(V)</text>
</g>
<g id="legend">
<rect x="1429" y="986.9" width="181" height="5" fill="#888888" opacity="0.3"/><rect x="1429" y="991.9" width="181" height="4.7" fill="#6e6e6e" opacity="0.3"/><rect x="1434" y="986.9" width="171" height="5" fill="#888888"/><rect x="1434" y="991.9" width="171" height="4.7" fill="#6e6e6e"/>
<text x="1621.99" y="1018.77" font-size="86.57" textLength="280.47" lengthAdjust="spacingAndGlyphs">800mm/s</text>
<rect x="1429" y="1082.5" width="181" height="14" fill="#ffc6c6" opacity="0.3"/><rect x="1429" y="1086.7" width="181" height="5.6" fill="#ff3a3a" opacity="0.3"/><rect x="1434" y="1082.5" width="171" height="14" fill="#ffc6c6"/><rect x="1434" y="1086.7" width="171" height="5.6" fill="#ff3a3a"/>
<text x="1622.75" y="1118.48" font-size="85.82" textLength="279.71" lengthAdjust="spacingAndGlyphs">900mm/s</text>
<rect x="1429" y="1181.5" width="181" height="11.4" fill="#1189e0" opacity="0.3"/><rect x="1434" y="1181.5" width="171" height="11.4" fill="#1189e0"/>
<text x="1626.37" y="1214.32" font-size="84.12" textLength="311.03" lengthAdjust="spacingAndGlyphs">1000mm/s</text>
<rect x="1429" y="1277.5" width="181" height="15" fill="#b6e6d2" opacity="0.3"/><rect x="1429" y="1281.7" width="181" height="6.4" fill="#00a862" opacity="0.3"/><rect x="1434" y="1277.5" width="171" height="15" fill="#b6e6d2"/><rect x="1434" y="1281.7" width="171" height="6.4" fill="#00a862"/>
<text x="1626.29" y="1309.94" font-size="77.94" textLength="312.07" lengthAdjust="spacingAndGlyphs">1100mm/s</text>
<rect x="1429" y="1378" width="181" height="10" fill="#c68ade" opacity="0.3"/><rect x="1434" y="1378" width="171" height="10" fill="#c68ade"/>
<text x="1626.37" y="1409.33" font-size="83.53" textLength="311.03" lengthAdjust="spacingAndGlyphs">1200mm/s</text>
</g>
</svg>
</body></html>
